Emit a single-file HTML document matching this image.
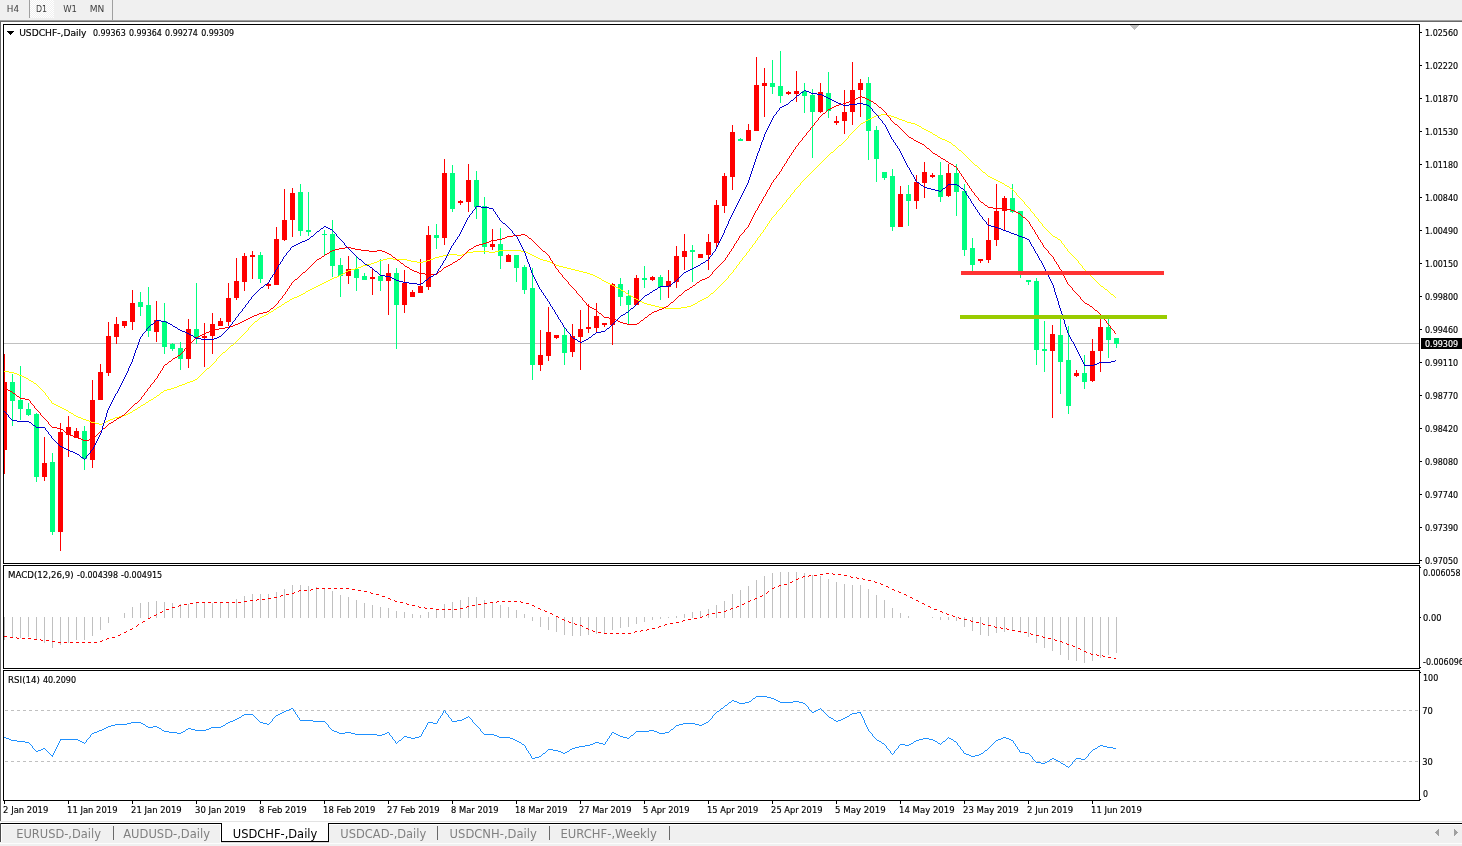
<!DOCTYPE html>
<html lang="en"><head><meta charset="utf-8"><title>USDCHF-,Daily</title>
<style>
html,body{margin:0;padding:0;background:#fff;}
body{width:1462px;height:846px;overflow:hidden;}
svg{display:block;}
svg rect, svg path, svg polyline{shape-rendering:crispEdges;}
text{font-family:"DejaVu Sans Condensed","Liberation Sans","DejaVu Sans",sans-serif;white-space:pre;stroke-width:0.15px;}
text.t{stroke-width:0;}
</style></head>
<body>
<svg width="1462" height="846" viewBox="0 0 1462 846">
<defs>
<pattern id="hatch" width="2" height="2" patternUnits="userSpaceOnUse"><rect width="2" height="2" fill="#f0f0f0"/><rect width="1" height="1" fill="#fff"/><rect x="1" y="1" width="1" height="1" fill="#fff"/></pattern>
<clipPath id="cm"><rect x="4" y="25" width="1415" height="538"/></clipPath>
<clipPath id="c2"><rect x="4" y="566" width="1415" height="102"/></clipPath>
<clipPath id="c3"><rect x="4" y="671" width="1415" height="129"/></clipPath>
</defs>
<rect x="0" y="0" width="1462" height="20" fill="#f0f0f0"/>
<rect x="0" y="20" width="1462" height="1" fill="#a0a0a0"/>
<rect x="0" y="21" width="1462" height="1" fill="#696969"/>
<rect x="0" y="22" width="1" height="800" fill="#696969"/>
<rect x="29" y="0" width="1" height="18" fill="#a0a0a0"/>
<rect x="112" y="0" width="1" height="20" fill="#a0a0a0"/>
<rect x="30" y="0" width="24" height="18" fill="url(#hatch)"/>
<text x="6.8" y="12" font-size="9" fill="#404040" stroke="#404040" textLength="12.2" lengthAdjust="spacingAndGlyphs" class="t">H4</text>
<text x="35.9" y="12" font-size="9" fill="#404040" stroke="#404040" textLength="11.1" lengthAdjust="spacingAndGlyphs" class="t">D1</text>
<text x="63.2" y="12" font-size="9" fill="#404040" stroke="#404040" textLength="13.8" lengthAdjust="spacingAndGlyphs" class="t">W1</text>
<text x="89.7" y="12" font-size="9" fill="#404040" stroke="#404040" textLength="14.6" lengthAdjust="spacingAndGlyphs" class="t">MN</text>
<rect x="3" y="24" width="1417" height="1" fill="#000"/>
<rect x="3" y="563" width="1417" height="1" fill="#000"/>
<rect x="3" y="24" width="1" height="540" fill="#000"/>
<rect x="1419" y="24" width="1" height="540" fill="#000"/>
<rect x="3" y="565" width="1417" height="1" fill="#000"/>
<rect x="3" y="668" width="1417" height="1" fill="#000"/>
<rect x="3" y="565" width="1" height="104" fill="#000"/>
<rect x="1419" y="565" width="1" height="104" fill="#000"/>
<rect x="3" y="670" width="1417" height="1" fill="#000"/>
<rect x="3" y="800" width="1417" height="1" fill="#000"/>
<rect x="3" y="670" width="1" height="131" fill="#000"/>
<rect x="1419" y="670" width="1" height="131" fill="#000"/>
<g clip-path="url(#cm)">
<rect x="4" y="343" width="1415" height="1" fill="#c0c0c0"/>
<path d="M1130 25h9l-4.5 5z" fill="#c0c0c0"/>
<rect x="4" y="354" width="1" height="120" fill="#ff0000"/>
<rect x="2" y="382" width="5" height="68" fill="#ff0000"/>
<rect x="12" y="374" width="1" height="52" fill="#00ff80"/>
<rect x="10" y="382" width="5" height="19" fill="#00ff80"/>
<rect x="20" y="366" width="1" height="54" fill="#00ff80"/>
<rect x="18" y="400" width="5" height="9" fill="#00ff80"/>
<rect x="28" y="403" width="1" height="13" fill="#00ff80"/>
<rect x="26" y="409" width="5" height="6" fill="#00ff80"/>
<rect x="36" y="413" width="1" height="69" fill="#00ff80"/>
<rect x="34" y="414" width="5" height="63" fill="#00ff80"/>
<rect x="44" y="437" width="1" height="44" fill="#ff0000"/>
<rect x="42" y="463" width="5" height="14" fill="#ff0000"/>
<rect x="52" y="453" width="1" height="82" fill="#00ff80"/>
<rect x="50" y="462" width="5" height="70" fill="#00ff80"/>
<rect x="60" y="423" width="1" height="128" fill="#ff0000"/>
<rect x="58" y="432" width="5" height="100" fill="#ff0000"/>
<rect x="68" y="416" width="1" height="41" fill="#ff0000"/>
<rect x="66" y="427" width="5" height="8" fill="#ff0000"/>
<rect x="76" y="428" width="1" height="10" fill="#ff0000"/>
<rect x="74" y="431" width="5" height="7" fill="#ff0000"/>
<rect x="84" y="426" width="1" height="44" fill="#00ff80"/>
<rect x="82" y="431" width="5" height="28" fill="#00ff80"/>
<rect x="92" y="380" width="1" height="88" fill="#ff0000"/>
<rect x="90" y="400" width="5" height="60" fill="#ff0000"/>
<rect x="100" y="364" width="1" height="36" fill="#ff0000"/>
<rect x="98" y="372" width="5" height="28" fill="#ff0000"/>
<rect x="108" y="322" width="1" height="54" fill="#ff0000"/>
<rect x="106" y="336" width="5" height="37" fill="#ff0000"/>
<rect x="116" y="317" width="1" height="27" fill="#ff0000"/>
<rect x="114" y="324" width="5" height="13" fill="#ff0000"/>
<rect x="124" y="321" width="1" height="7" fill="#ff0000"/>
<rect x="122" y="321" width="5" height="5" fill="#ff0000"/>
<rect x="132" y="290" width="1" height="40" fill="#ff0000"/>
<rect x="130" y="303" width="5" height="19" fill="#ff0000"/>
<rect x="140" y="292" width="1" height="24" fill="#00ff80"/>
<rect x="138" y="302" width="5" height="5" fill="#00ff80"/>
<rect x="148" y="287" width="1" height="50" fill="#00ff80"/>
<rect x="146" y="305" width="5" height="26" fill="#00ff80"/>
<rect x="156" y="301" width="1" height="41" fill="#ff0000"/>
<rect x="154" y="320" width="5" height="12" fill="#ff0000"/>
<rect x="164" y="303" width="1" height="51" fill="#00ff80"/>
<rect x="162" y="321" width="5" height="26" fill="#00ff80"/>
<rect x="172" y="343" width="1" height="8" fill="#00ff80"/>
<rect x="170" y="344" width="5" height="5" fill="#00ff80"/>
<rect x="180" y="342" width="1" height="28" fill="#00ff80"/>
<rect x="178" y="348" width="5" height="11" fill="#00ff80"/>
<rect x="188" y="319" width="1" height="49" fill="#ff0000"/>
<rect x="186" y="329" width="5" height="30" fill="#ff0000"/>
<rect x="196" y="283" width="1" height="61" fill="#00ff80"/>
<rect x="194" y="329" width="5" height="9" fill="#00ff80"/>
<rect x="204" y="323" width="1" height="44" fill="#ff0000"/>
<rect x="202" y="336" width="5" height="2" fill="#ff0000"/>
<rect x="212" y="313" width="1" height="41" fill="#ff0000"/>
<rect x="210" y="324" width="5" height="12" fill="#ff0000"/>
<rect x="220" y="318" width="1" height="8" fill="#ff0000"/>
<rect x="218" y="321" width="5" height="5" fill="#ff0000"/>
<rect x="228" y="283" width="1" height="43" fill="#ff0000"/>
<rect x="226" y="298" width="5" height="24" fill="#ff0000"/>
<rect x="236" y="258" width="1" height="42" fill="#ff0000"/>
<rect x="234" y="281" width="5" height="17" fill="#ff0000"/>
<rect x="244" y="253" width="1" height="38" fill="#ff0000"/>
<rect x="242" y="256" width="5" height="26" fill="#ff0000"/>
<rect x="252" y="251" width="1" height="28" fill="#ff0000"/>
<rect x="250" y="255" width="5" height="2" fill="#ff0000"/>
<rect x="260" y="252" width="1" height="31" fill="#00ff80"/>
<rect x="258" y="255" width="5" height="24" fill="#00ff80"/>
<rect x="268" y="282" width="1" height="7" fill="#ff0000"/>
<rect x="266" y="284" width="5" height="2" fill="#ff0000"/>
<rect x="276" y="227" width="1" height="58" fill="#ff0000"/>
<rect x="274" y="239" width="5" height="46" fill="#ff0000"/>
<rect x="284" y="189" width="1" height="52" fill="#ff0000"/>
<rect x="282" y="220" width="5" height="20" fill="#ff0000"/>
<rect x="292" y="188" width="1" height="49" fill="#ff0000"/>
<rect x="290" y="193" width="5" height="27" fill="#ff0000"/>
<rect x="300" y="184" width="1" height="52" fill="#00ff80"/>
<rect x="298" y="192" width="5" height="39" fill="#00ff80"/>
<rect x="308" y="192" width="1" height="44" fill="#00ff80"/>
<rect x="306" y="230" width="5" height="2" fill="#00ff80"/>
<rect x="324" y="230" width="1" height="26" fill="#00ff80"/>
<rect x="322" y="234" width="5" height="1" fill="#00ff80"/>
<rect x="332" y="220" width="1" height="57" fill="#00ff80"/>
<rect x="330" y="234" width="5" height="32" fill="#00ff80"/>
<rect x="340" y="258" width="1" height="39" fill="#00ff80"/>
<rect x="338" y="265" width="5" height="11" fill="#00ff80"/>
<rect x="348" y="256" width="1" height="28" fill="#ff0000"/>
<rect x="346" y="269" width="5" height="7" fill="#ff0000"/>
<rect x="356" y="256" width="1" height="35" fill="#00ff80"/>
<rect x="354" y="269" width="5" height="9" fill="#00ff80"/>
<rect x="364" y="273" width="1" height="7" fill="#00ff80"/>
<rect x="362" y="276" width="5" height="4" fill="#00ff80"/>
<rect x="372" y="268" width="1" height="27" fill="#ff0000"/>
<rect x="370" y="277" width="5" height="2" fill="#ff0000"/>
<rect x="380" y="259" width="1" height="32" fill="#00ff80"/>
<rect x="378" y="276" width="5" height="5" fill="#00ff80"/>
<rect x="388" y="264" width="1" height="51" fill="#ff0000"/>
<rect x="386" y="273" width="5" height="8" fill="#ff0000"/>
<rect x="396" y="268" width="1" height="81" fill="#00ff80"/>
<rect x="394" y="273" width="5" height="32" fill="#00ff80"/>
<rect x="404" y="270" width="1" height="43" fill="#ff0000"/>
<rect x="402" y="283" width="5" height="22" fill="#ff0000"/>
<rect x="412" y="290" width="1" height="7" fill="#ff0000"/>
<rect x="410" y="292" width="5" height="5" fill="#ff0000"/>
<rect x="420" y="259" width="1" height="34" fill="#ff0000"/>
<rect x="418" y="286" width="5" height="7" fill="#ff0000"/>
<rect x="428" y="226" width="1" height="64" fill="#ff0000"/>
<rect x="426" y="235" width="5" height="52" fill="#ff0000"/>
<rect x="436" y="224" width="1" height="25" fill="#00ff80"/>
<rect x="434" y="235" width="5" height="3" fill="#00ff80"/>
<rect x="444" y="159" width="1" height="86" fill="#ff0000"/>
<rect x="442" y="173" width="5" height="65" fill="#ff0000"/>
<rect x="452" y="165" width="1" height="47" fill="#00ff80"/>
<rect x="450" y="173" width="5" height="36" fill="#00ff80"/>
<rect x="460" y="200" width="1" height="5" fill="#ff0000"/>
<rect x="458" y="201" width="5" height="2" fill="#ff0000"/>
<rect x="468" y="164" width="1" height="48" fill="#ff0000"/>
<rect x="466" y="180" width="5" height="22" fill="#ff0000"/>
<rect x="476" y="171" width="1" height="48" fill="#00ff80"/>
<rect x="474" y="180" width="5" height="27" fill="#00ff80"/>
<rect x="484" y="197" width="1" height="57" fill="#00ff80"/>
<rect x="482" y="206" width="5" height="41" fill="#00ff80"/>
<rect x="492" y="229" width="1" height="21" fill="#ff0000"/>
<rect x="490" y="244" width="5" height="3" fill="#ff0000"/>
<rect x="500" y="228" width="1" height="41" fill="#00ff80"/>
<rect x="498" y="244" width="5" height="12" fill="#00ff80"/>
<rect x="508" y="254" width="1" height="8" fill="#ff0000"/>
<rect x="506" y="255" width="5" height="7" fill="#ff0000"/>
<rect x="516" y="255" width="1" height="27" fill="#00ff80"/>
<rect x="514" y="255" width="5" height="13" fill="#00ff80"/>
<rect x="524" y="265" width="1" height="29" fill="#00ff80"/>
<rect x="522" y="267" width="5" height="23" fill="#00ff80"/>
<rect x="532" y="268" width="1" height="112" fill="#00ff80"/>
<rect x="530" y="288" width="5" height="77" fill="#00ff80"/>
<rect x="540" y="330" width="1" height="41" fill="#ff0000"/>
<rect x="538" y="355" width="5" height="10" fill="#ff0000"/>
<rect x="548" y="307" width="1" height="54" fill="#ff0000"/>
<rect x="546" y="332" width="5" height="24" fill="#ff0000"/>
<rect x="556" y="335" width="1" height="4" fill="#ff0000"/>
<rect x="554" y="335" width="5" height="3" fill="#ff0000"/>
<rect x="564" y="328" width="1" height="37" fill="#00ff80"/>
<rect x="562" y="335" width="5" height="18" fill="#00ff80"/>
<rect x="572" y="324" width="1" height="33" fill="#ff0000"/>
<rect x="570" y="336" width="5" height="16" fill="#ff0000"/>
<rect x="580" y="310" width="1" height="60" fill="#ff0000"/>
<rect x="578" y="329" width="5" height="8" fill="#ff0000"/>
<rect x="588" y="304" width="1" height="29" fill="#ff0000"/>
<rect x="586" y="327" width="5" height="2" fill="#ff0000"/>
<rect x="596" y="303" width="1" height="30" fill="#ff0000"/>
<rect x="594" y="316" width="5" height="12" fill="#ff0000"/>
<rect x="604" y="323" width="1" height="4" fill="#ff0000"/>
<rect x="602" y="323" width="5" height="2" fill="#ff0000"/>
<rect x="612" y="283" width="1" height="62" fill="#ff0000"/>
<rect x="610" y="284" width="5" height="41" fill="#ff0000"/>
<rect x="620" y="278" width="1" height="28" fill="#00ff80"/>
<rect x="618" y="284" width="5" height="13" fill="#00ff80"/>
<rect x="628" y="290" width="1" height="34" fill="#00ff80"/>
<rect x="626" y="296" width="5" height="9" fill="#00ff80"/>
<rect x="636" y="275" width="1" height="30" fill="#ff0000"/>
<rect x="634" y="278" width="5" height="27" fill="#ff0000"/>
<rect x="644" y="266" width="1" height="22" fill="#00ff80"/>
<rect x="642" y="278" width="5" height="2" fill="#00ff80"/>
<rect x="652" y="276" width="1" height="5" fill="#ff0000"/>
<rect x="650" y="277" width="5" height="3" fill="#ff0000"/>
<rect x="660" y="275" width="1" height="25" fill="#00ff80"/>
<rect x="658" y="277" width="5" height="10" fill="#00ff80"/>
<rect x="668" y="270" width="1" height="28" fill="#ff0000"/>
<rect x="666" y="281" width="5" height="6" fill="#ff0000"/>
<rect x="676" y="246" width="1" height="42" fill="#ff0000"/>
<rect x="674" y="256" width="5" height="26" fill="#ff0000"/>
<rect x="684" y="234" width="1" height="36" fill="#ff0000"/>
<rect x="682" y="251" width="5" height="6" fill="#ff0000"/>
<rect x="692" y="245" width="1" height="37" fill="#00ff80"/>
<rect x="690" y="250" width="5" height="2" fill="#00ff80"/>
<rect x="700" y="254" width="1" height="4" fill="#ff0000"/>
<rect x="698" y="254" width="5" height="4" fill="#ff0000"/>
<rect x="708" y="234" width="1" height="36" fill="#ff0000"/>
<rect x="706" y="242" width="5" height="13" fill="#ff0000"/>
<rect x="716" y="200" width="1" height="48" fill="#ff0000"/>
<rect x="714" y="205" width="5" height="38" fill="#ff0000"/>
<rect x="724" y="173" width="1" height="40" fill="#ff0000"/>
<rect x="722" y="176" width="5" height="30" fill="#ff0000"/>
<rect x="732" y="125" width="1" height="65" fill="#ff0000"/>
<rect x="730" y="132" width="5" height="45" fill="#ff0000"/>
<rect x="740" y="138" width="1" height="3" fill="#00ff80"/>
<rect x="738" y="139" width="5" height="2" fill="#00ff80"/>
<rect x="748" y="124" width="1" height="17" fill="#ff0000"/>
<rect x="746" y="130" width="5" height="11" fill="#ff0000"/>
<rect x="756" y="57" width="1" height="74" fill="#ff0000"/>
<rect x="754" y="85" width="5" height="46" fill="#ff0000"/>
<rect x="764" y="68" width="1" height="49" fill="#ff0000"/>
<rect x="762" y="83" width="5" height="3" fill="#ff0000"/>
<rect x="772" y="60" width="1" height="34" fill="#00ff80"/>
<rect x="770" y="83" width="5" height="4" fill="#00ff80"/>
<rect x="780" y="51" width="1" height="52" fill="#00ff80"/>
<rect x="778" y="86" width="5" height="10" fill="#00ff80"/>
<rect x="788" y="91" width="1" height="4" fill="#ff0000"/>
<rect x="786" y="92" width="5" height="2" fill="#ff0000"/>
<rect x="796" y="71" width="1" height="31" fill="#ff0000"/>
<rect x="794" y="91" width="5" height="3" fill="#ff0000"/>
<rect x="804" y="83" width="1" height="30" fill="#00ff80"/>
<rect x="802" y="91" width="5" height="5" fill="#00ff80"/>
<rect x="812" y="89" width="1" height="69" fill="#00ff80"/>
<rect x="810" y="95" width="5" height="17" fill="#00ff80"/>
<rect x="820" y="83" width="1" height="30" fill="#ff0000"/>
<rect x="818" y="92" width="5" height="20" fill="#ff0000"/>
<rect x="828" y="72" width="1" height="46" fill="#00ff80"/>
<rect x="826" y="93" width="5" height="18" fill="#00ff80"/>
<rect x="836" y="116" width="1" height="9" fill="#ff0000"/>
<rect x="834" y="121" width="5" height="2" fill="#ff0000"/>
<rect x="844" y="90" width="1" height="44" fill="#ff0000"/>
<rect x="842" y="112" width="5" height="9" fill="#ff0000"/>
<rect x="852" y="62" width="1" height="63" fill="#ff0000"/>
<rect x="850" y="90" width="5" height="22" fill="#ff0000"/>
<rect x="860" y="79" width="1" height="38" fill="#ff0000"/>
<rect x="858" y="83" width="5" height="7" fill="#ff0000"/>
<rect x="868" y="77" width="1" height="83" fill="#00ff80"/>
<rect x="866" y="83" width="5" height="48" fill="#00ff80"/>
<rect x="876" y="126" width="1" height="56" fill="#00ff80"/>
<rect x="874" y="130" width="5" height="29" fill="#00ff80"/>
<rect x="884" y="172" width="1" height="8" fill="#00ff80"/>
<rect x="882" y="172" width="5" height="6" fill="#00ff80"/>
<rect x="892" y="169" width="1" height="62" fill="#00ff80"/>
<rect x="890" y="176" width="5" height="51" fill="#00ff80"/>
<rect x="900" y="186" width="1" height="41" fill="#ff0000"/>
<rect x="898" y="194" width="5" height="33" fill="#ff0000"/>
<rect x="908" y="185" width="1" height="41" fill="#00ff80"/>
<rect x="906" y="194" width="5" height="7" fill="#00ff80"/>
<rect x="916" y="175" width="1" height="34" fill="#ff0000"/>
<rect x="914" y="182" width="5" height="19" fill="#ff0000"/>
<rect x="924" y="162" width="1" height="36" fill="#ff0000"/>
<rect x="922" y="172" width="5" height="11" fill="#ff0000"/>
<rect x="932" y="173" width="1" height="5" fill="#ff0000"/>
<rect x="930" y="175" width="5" height="2" fill="#ff0000"/>
<rect x="940" y="162" width="1" height="40" fill="#00ff80"/>
<rect x="938" y="175" width="5" height="22" fill="#00ff80"/>
<rect x="948" y="164" width="1" height="33" fill="#ff0000"/>
<rect x="946" y="173" width="5" height="23" fill="#ff0000"/>
<rect x="956" y="164" width="1" height="52" fill="#00ff80"/>
<rect x="954" y="173" width="5" height="19" fill="#00ff80"/>
<rect x="964" y="184" width="1" height="72" fill="#00ff80"/>
<rect x="962" y="191" width="5" height="59" fill="#00ff80"/>
<rect x="972" y="238" width="1" height="33" fill="#00ff80"/>
<rect x="970" y="248" width="5" height="17" fill="#00ff80"/>
<rect x="980" y="259" width="1" height="4" fill="#ff0000"/>
<rect x="978" y="259" width="5" height="2" fill="#ff0000"/>
<rect x="988" y="218" width="1" height="45" fill="#ff0000"/>
<rect x="986" y="240" width="5" height="20" fill="#ff0000"/>
<rect x="996" y="184" width="1" height="62" fill="#ff0000"/>
<rect x="994" y="211" width="5" height="29" fill="#ff0000"/>
<rect x="1004" y="196" width="1" height="34" fill="#ff0000"/>
<rect x="1002" y="198" width="5" height="13" fill="#ff0000"/>
<rect x="1012" y="184" width="1" height="29" fill="#00ff80"/>
<rect x="1010" y="198" width="5" height="14" fill="#00ff80"/>
<rect x="1020" y="211" width="1" height="67" fill="#00ff80"/>
<rect x="1018" y="211" width="5" height="62" fill="#00ff80"/>
<rect x="1028" y="280" width="1" height="5" fill="#00ff80"/>
<rect x="1026" y="280" width="5" height="2" fill="#00ff80"/>
<rect x="1036" y="278" width="1" height="87" fill="#00ff80"/>
<rect x="1034" y="281" width="5" height="69" fill="#00ff80"/>
<rect x="1044" y="321" width="1" height="51" fill="#00ff80"/>
<rect x="1042" y="349" width="5" height="2" fill="#00ff80"/>
<rect x="1052" y="325" width="1" height="93" fill="#ff0000"/>
<rect x="1050" y="334" width="5" height="17" fill="#ff0000"/>
<rect x="1060" y="319" width="1" height="75" fill="#00ff80"/>
<rect x="1058" y="335" width="5" height="27" fill="#00ff80"/>
<rect x="1068" y="326" width="1" height="88" fill="#00ff80"/>
<rect x="1066" y="360" width="5" height="46" fill="#00ff80"/>
<rect x="1076" y="370" width="1" height="7" fill="#ff0000"/>
<rect x="1074" y="373" width="5" height="3" fill="#ff0000"/>
<rect x="1084" y="355" width="1" height="34" fill="#00ff80"/>
<rect x="1082" y="373" width="5" height="9" fill="#00ff80"/>
<rect x="1092" y="339" width="1" height="43" fill="#ff0000"/>
<rect x="1090" y="351" width="5" height="30" fill="#ff0000"/>
<rect x="1100" y="319" width="1" height="53" fill="#ff0000"/>
<rect x="1098" y="327" width="5" height="24" fill="#ff0000"/>
<rect x="1108" y="319" width="1" height="39" fill="#00ff80"/>
<rect x="1106" y="327" width="5" height="13" fill="#00ff80"/>
<rect x="1116" y="338" width="1" height="10" fill="#00ff80"/>
<rect x="1114" y="338" width="5" height="6" fill="#00ff80"/>
<path d="M4 371h5v1h-5zM9 372h5v1h-5zM14 373h3v1h-3zM17 374h2v1h-2zM19 375h3v1h-3zM22 376h2v1h-2zM24 377h2v1h-2zM26 378h2v1h-2zM28 379h1v1h-1zM29 380h2v1h-2zM31 381h2v1h-2zM33 382h1v1h-1zM34 383h2v1h-2zM36 384h1v1h-1zM37 385h1v1h-1zM38 386h1v1h-1zM39 387h1v1h-1zM40 388h1v1h-1zM41 389h1v1h-1zM42 390h1v1h-1zM43 391h1v1h-1zM44 392h1v1h-1zM45 393h1v2h-1zM46 395h1v1h-1zM47 396h1v1h-1zM48 397h1v2h-1zM49 399h1v1h-1zM50 400h1v1h-1zM51 401h1v2h-1zM52 403h2v1h-2zM54 404h2v1h-2zM56 405h2v1h-2zM58 406h2v1h-2zM60 407h2v1h-2zM62 408h2v1h-2zM64 409h2v1h-2zM66 410h2v1h-2zM68 411h1v1h-1zM69 412h2v1h-2zM71 413h2v1h-2zM73 414h1v1h-1zM74 415h2v1h-2zM76 416h2v1h-2zM78 417h3v1h-3zM81 418h2v1h-2zM83 419h3v1h-3zM86 420h3v1h-3zM89 421h2v1h-2zM91 422h4v1h-4zM95 423h4v1h-4zM99 424h3v1h-3zM102 423h2v1h-2zM104 422h2v1h-2zM106 421h2v1h-2zM108 420h2v1h-2zM110 419h3v1h-3zM113 418h2v1h-2zM115 417h4v1h-4zM119 416h4v1h-4zM123 415h3v1h-3zM126 414h2v1h-2zM128 413h2v1h-2zM130 412h2v1h-2zM132 411h1v1h-1zM133 410h2v1h-2zM135 409h2v1h-2zM137 408h1v1h-1zM138 407h2v1h-2zM140 406h1v1h-1zM141 405h2v1h-2zM143 404h2v1h-2zM145 403h1v1h-1zM146 402h2v1h-2zM148 401h1v1h-1zM149 400h2v1h-2zM151 399h2v1h-2zM153 398h1v1h-1zM154 397h2v1h-2zM156 396h1v1h-1zM157 395h2v1h-2zM159 394h1v1h-1zM160 393h1v1h-1zM161 392h2v1h-2zM163 391h1v1h-1zM164 390h3v1h-3zM167 389h4v1h-4zM171 388h3v1h-3zM174 387h3v1h-3zM177 386h2v1h-2zM179 385h3v1h-3zM182 384h3v1h-3zM185 383h2v1h-2zM187 382h3v1h-3zM190 381h3v1h-3zM193 380h2v1h-2zM195 379h2v1h-2zM197 378h1v1h-1zM198 377h1v1h-1zM199 376h1v1h-1zM200 375h1v1h-1zM201 374h1v1h-1zM202 373h1v1h-1zM203 372h1v1h-1zM204 371h1v1h-1zM205 370h1v1h-1zM206 369h1v1h-1zM207 368h2v1h-2zM209 367h1v1h-1zM210 366h1v1h-1zM211 365h1v1h-1zM212 364h1v1h-1zM213 363h1v1h-1zM214 362h1v1h-1zM215 361h1v1h-1zM216 360h1v1h-1zM216 359h1v1h-1zM217 358h1v1h-1zM218 357h1v1h-1zM219 356h1v1h-1zM220 355h1v1h-1zM221 354h1v1h-1zM222 353h1v1h-1zM223 352h2v1h-2zM225 351h1v1h-1zM226 350h1v1h-1zM227 349h1v1h-1zM228 348h1v1h-1zM229 347h1v1h-1zM230 346h1v1h-1zM231 345h2v1h-2zM233 344h1v1h-1zM234 343h1v1h-1zM235 342h1v1h-1zM236 341h1v1h-1zM237 340h1v1h-1zM238 339h1v1h-1zM239 338h1v1h-1zM240 337h1v1h-1zM241 336h1v1h-1zM242 335h1v1h-1zM243 334h1v1h-1zM244 333h1v1h-1zM245 332h1v1h-1zM246 331h1v1h-1zM247 330h1v1h-1zM248 329h1v1h-1zM248 328h1v1h-1zM249 327h1v1h-1zM250 326h1v1h-1zM251 325h1v1h-1zM252 324h1v1h-1zM253 323h1v1h-1zM254 322h1v1h-1zM255 321h2v1h-2zM257 320h1v1h-1zM258 319h1v1h-1zM259 318h1v1h-1zM260 317h2v1h-2zM262 316h2v1h-2zM264 315h2v1h-2zM266 314h2v1h-2zM268 313h1v1h-1zM269 312h2v1h-2zM271 311h2v1h-2zM273 310h1v1h-1zM274 309h2v1h-2zM276 308h1v1h-1zM277 307h2v1h-2zM279 306h2v1h-2zM281 305h1v1h-1zM282 304h2v1h-2zM284 303h1v1h-1zM285 302h2v1h-2zM287 301h2v1h-2zM289 300h1v1h-1zM290 299h2v1h-2zM292 298h2v1h-2zM294 297h3v1h-3zM297 296h2v1h-2zM299 295h2v1h-2zM301 294h2v1h-2zM303 293h2v1h-2zM305 292h1v1h-1zM306 291h2v1h-2zM308 290h2v1h-2zM310 289h2v1h-2zM312 288h2v1h-2zM314 287h2v1h-2zM316 286h2v1h-2zM318 285h2v1h-2zM320 284h2v1h-2zM322 283h2v1h-2zM324 282h2v1h-2zM326 281h2v1h-2zM328 280h2v1h-2zM330 279h2v1h-2zM332 278h2v1h-2zM334 277h3v1h-3zM337 276h2v1h-2zM339 275h2v1h-2zM341 274h2v1h-2zM343 273h2v1h-2zM345 272h1v1h-1zM346 271h2v1h-2zM348 270h3v1h-3zM351 269h4v1h-4zM355 268h3v1h-3zM358 267h3v1h-3zM361 266h2v1h-2zM363 265h4v1h-4zM367 264h4v1h-4zM371 263h3v1h-3zM374 262h3v1h-3zM377 261h2v1h-2zM379 260h4v1h-4zM383 259h4v1h-4zM387 258h6v1h-6zM393 259h14v1h-14zM407 260h4v1h-4zM411 261h6v1h-6zM417 262h6v1h-6zM423 261h4v1h-4zM427 260h3v1h-3zM430 259h3v1h-3zM433 258h2v1h-2zM435 257h4v1h-4zM439 256h4v1h-4zM443 255h6v1h-6zM449 254h8v1h-8zM457 255h5v1h-5zM462 254h3v1h-3zM465 253h2v1h-2zM467 252h6v1h-6zM473 251h16v1h-16zM489 252h6v1h-6zM495 251h4v1h-4zM499 250h22v1h-22zM521 251h5v1h-5zM526 252h2v1h-2zM528 253h2v1h-2zM530 254h2v1h-2zM532 255h2v1h-2zM534 256h2v1h-2zM536 257h2v1h-2zM538 258h2v1h-2zM540 259h3v1h-3zM543 260h4v1h-4zM547 261h3v1h-3zM550 262h2v1h-2zM552 263h2v1h-2zM554 264h2v1h-2zM556 265h3v1h-3zM559 266h4v1h-4zM563 267h4v1h-4zM567 268h4v1h-4zM571 269h4v1h-4zM575 270h4v1h-4zM579 271h4v1h-4zM583 272h4v1h-4zM587 273h3v1h-3zM590 274h3v1h-3zM593 275h2v1h-2zM595 276h2v1h-2zM597 277h2v1h-2zM599 278h2v1h-2zM601 279h1v1h-1zM602 280h2v1h-2zM604 281h2v1h-2zM606 282h2v1h-2zM608 283h2v1h-2zM610 284h2v1h-2zM612 285h2v1h-2zM614 286h2v1h-2zM616 287h2v1h-2zM618 288h2v1h-2zM620 289h1v1h-1zM621 290h2v1h-2zM623 291h2v1h-2zM625 292h1v1h-1zM626 293h2v1h-2zM628 294h1v1h-1zM629 295h2v1h-2zM631 296h2v1h-2zM633 297h1v1h-1zM634 298h2v1h-2zM636 299h2v1h-2zM638 300h2v1h-2zM640 301h2v1h-2zM642 302h2v1h-2zM644 303h3v1h-3zM647 304h4v1h-4zM651 305h4v1h-4zM655 306h4v1h-4zM659 307h6v1h-6zM665 308h16v1h-16zM681 307h6v1h-6zM687 306h4v1h-4zM691 305h2v1h-2zM693 304h2v1h-2zM695 303h2v1h-2zM697 302h1v1h-1zM698 301h2v1h-2zM700 300h2v1h-2zM702 299h2v1h-2zM704 298h2v1h-2zM706 297h2v1h-2zM708 296h1v1h-1zM709 295h1v1h-1zM710 294h1v1h-1zM711 293h2v1h-2zM713 292h1v1h-1zM714 291h1v1h-1zM715 290h1v1h-1zM716 289h1v1h-1zM717 288h1v1h-1zM718 287h1v1h-1zM719 286h1v1h-1zM720 285h1v1h-1zM721 284h1v1h-1zM722 283h1v1h-1zM723 282h1v1h-1zM724 281h1v1h-1zM725 280h1v1h-1zM726 279h1v1h-1zM727 278h1v1h-1zM728 277h1v1h-1zM728 276h1v1h-1zM729 275h1v1h-1zM730 274h1v1h-1zM731 273h1v1h-1zM732 272h1v1h-1zM733 271h1v1h-1zM733 270h1v1h-1zM734 269h1v1h-1zM735 268h1v1h-1zM736 267h1v1h-1zM736 266h1v1h-1zM737 265h1v1h-1zM738 264h1v1h-1zM739 263h1v1h-1zM739 262h1v1h-1zM740 261h1v1h-1zM741 260h1v1h-1zM742 259h1v1h-1zM742 258h1v1h-1zM743 257h1v1h-1zM744 256h1v1h-1zM745 255h1v1h-1zM746 254h1v1h-1zM746 253h1v1h-1zM747 252h1v1h-1zM748 251h1v1h-1zM749 250h1v1h-1zM749 249h1v1h-1zM750 248h1v1h-1zM751 247h1v1h-1zM752 246h1v1h-1zM752 245h1v1h-1zM753 244h1v1h-1zM754 243h1v1h-1zM755 242h1v1h-1zM755 241h1v1h-1zM756 240h1v1h-1zM757 239h1v1h-1zM757 238h1v1h-1zM758 237h1v1h-1zM759 236h1v1h-1zM760 235h1v1h-1zM760 234h1v1h-1zM761 233h1v1h-1zM762 232h1v1h-1zM763 231h1v1h-1zM763 230h1v1h-1zM764 229h1v1h-1zM765 228h1v1h-1zM765 227h1v1h-1zM766 226h1v1h-1zM767 225h1v1h-1zM767 224h1v1h-1zM768 223h1v1h-1zM769 222h1v1h-1zM769 221h1v1h-1zM770 220h1v1h-1zM771 219h1v1h-1zM771 218h1v1h-1zM772 217h1v1h-1zM773 216h1v1h-1zM774 215h1v1h-1zM775 214h1v1h-1zM776 213h1v1h-1zM776 212h1v1h-1zM777 211h1v1h-1zM778 210h1v1h-1zM779 209h1v1h-1zM780 208h1v1h-1zM781 207h1v1h-1zM782 206h1v1h-1zM782 205h1v1h-1zM783 204h1v1h-1zM784 203h1v1h-1zM785 202h1v1h-1zM786 201h1v1h-1zM786 200h1v1h-1zM787 199h1v1h-1zM788 198h1v1h-1zM789 197h1v1h-1zM790 196h1v1h-1zM790 195h1v1h-1zM791 194h1v1h-1zM792 193h1v1h-1zM793 192h1v1h-1zM794 191h1v1h-1zM794 190h1v1h-1zM795 189h1v1h-1zM796 188h1v1h-1zM797 187h1v1h-1zM798 186h1v1h-1zM799 185h1v1h-1zM800 184h1v1h-1zM800 183h1v1h-1zM801 182h1v1h-1zM802 181h1v1h-1zM803 180h1v1h-1zM804 179h1v1h-1zM805 178h1v1h-1zM806 177h1v1h-1zM807 176h1v1h-1zM808 175h1v1h-1zM809 174h1v1h-1zM810 173h1v1h-1zM811 172h1v1h-1zM812 171h1v1h-1zM813 170h1v1h-1zM814 169h1v1h-1zM815 168h1v1h-1zM816 167h1v1h-1zM817 166h1v1h-1zM818 165h1v1h-1zM819 164h1v1h-1zM820 163h1v1h-1zM821 162h1v1h-1zM822 161h1v1h-1zM823 160h1v1h-1zM824 159h1v1h-1zM825 158h1v1h-1zM826 157h1v1h-1zM827 156h1v1h-1zM828 155h1v1h-1zM829 154h1v1h-1zM830 153h1v1h-1zM831 152h2v1h-2zM833 151h1v1h-1zM834 150h1v1h-1zM835 149h1v1h-1zM836 148h1v1h-1zM837 147h1v1h-1zM838 146h1v1h-1zM839 145h2v1h-2zM841 144h1v1h-1zM842 143h1v1h-1zM843 142h1v1h-1zM844 141h1v1h-1zM845 140h1v1h-1zM846 139h1v1h-1zM847 138h1v1h-1zM848 137h1v1h-1zM848 136h1v1h-1zM849 135h1v1h-1zM850 134h1v1h-1zM851 133h1v1h-1zM852 132h1v1h-1zM853 131h1v1h-1zM854 130h1v1h-1zM855 129h1v1h-1zM856 128h1v1h-1zM857 127h1v1h-1zM858 126h1v1h-1zM859 125h1v1h-1zM860 124h1v1h-1zM861 123h2v1h-2zM863 122h2v1h-2zM865 121h1v1h-1zM866 120h2v1h-2zM868 119h2v1h-2zM870 118h2v1h-2zM872 117h2v1h-2zM874 116h2v1h-2zM876 115h5v1h-5zM881 114h6v1h-6zM887 115h4v1h-4zM891 116h3v1h-3zM894 117h3v1h-3zM897 118h2v1h-2zM899 119h3v1h-3zM902 120h3v1h-3zM905 121h2v1h-2zM907 122h4v1h-4zM911 123h4v1h-4zM915 124h2v1h-2zM917 125h2v1h-2zM919 126h2v1h-2zM921 127h1v1h-1zM922 128h2v1h-2zM924 129h2v1h-2zM926 130h2v1h-2zM928 131h2v1h-2zM930 132h2v1h-2zM932 133h1v1h-1zM933 134h2v1h-2zM935 135h2v1h-2zM937 136h1v1h-1zM938 137h2v1h-2zM940 138h2v1h-2zM942 139h3v1h-3zM945 140h2v1h-2zM947 141h2v1h-2zM949 142h2v1h-2zM951 143h1v1h-1zM952 144h1v1h-1zM953 145h2v1h-2zM955 146h1v1h-1zM956 147h1v1h-1zM957 148h1v1h-1zM958 149h1v1h-1zM959 150h2v1h-2zM961 151h1v1h-1zM962 152h1v1h-1zM963 153h1v1h-1zM964 154h1v1h-1zM965 155h1v1h-1zM966 156h1v1h-1zM967 157h1v1h-1zM968 158h1v1h-1zM969 159h1v1h-1zM970 160h1v1h-1zM971 161h1v1h-1zM972 162h1v1h-1zM973 163h1v1h-1zM974 164h1v1h-1zM975 165h2v1h-2zM977 166h1v1h-1zM978 167h1v1h-1zM979 168h1v1h-1zM980 169h1v1h-1zM981 170h1v1h-1zM982 171h1v1h-1zM983 172h2v1h-2zM985 173h1v1h-1zM986 174h1v1h-1zM987 175h1v1h-1zM988 176h2v1h-2zM990 177h2v1h-2zM992 178h2v1h-2zM994 179h2v1h-2zM996 180h2v1h-2zM998 181h2v1h-2zM1000 182h2v1h-2zM1002 183h2v1h-2zM1004 184h1v1h-1zM1005 185h2v1h-2zM1007 186h2v1h-2zM1009 187h1v1h-1zM1010 188h2v1h-2zM1012 189h1v1h-1zM1013 190h1v1h-1zM1014 191h1v1h-1zM1015 192h1v1h-1zM1016 193h1v2h-1zM1017 195h1v1h-1zM1018 196h1v1h-1zM1019 197h1v1h-1zM1020 198h1v1h-1zM1021 199h1v1h-1zM1022 200h1v1h-1zM1023 201h1v1h-1zM1024 202h1v2h-1zM1025 204h1v1h-1zM1026 205h1v1h-1zM1027 206h1v1h-1zM1028 207h1v1h-1zM1029 208h1v1h-1zM1030 209h1v2h-1zM1031 211h1v1h-1zM1032 212h1v1h-1zM1033 213h1v1h-1zM1034 214h1v2h-1zM1035 216h1v1h-1zM1036 217h1v1h-1zM1037 218h1v1h-1zM1038 219h1v2h-1zM1039 221h1v1h-1zM1040 222h1v1h-1zM1041 223h1v1h-1zM1042 224h1v2h-1zM1043 226h1v1h-1zM1044 227h1v1h-1zM1045 228h1v1h-1zM1046 229h1v1h-1zM1047 230h1v1h-1zM1048 231h1v1h-1zM1049 232h1v1h-1zM1050 233h1v1h-1zM1051 234h1v1h-1zM1052 235h1v1h-1zM1053 236h2v1h-2zM1055 237h2v1h-2zM1057 238h1v1h-1zM1058 239h2v1h-2zM1060 240h1v1h-1zM1061 241h1v2h-1zM1062 243h1v1h-1zM1063 244h1v1h-1zM1064 245h1v2h-1zM1065 247h1v1h-1zM1066 248h1v1h-1zM1067 249h1v2h-1zM1068 251h1v1h-1zM1069 252h1v1h-1zM1070 253h1v1h-1zM1071 254h1v1h-1zM1072 255h1v1h-1zM1073 256h1v1h-1zM1074 257h1v1h-1zM1075 258h1v1h-1zM1076 259h1v1h-1zM1077 260h1v1h-1zM1078 261h1v2h-1zM1079 263h1v1h-1zM1080 264h1v1h-1zM1081 265h1v1h-1zM1082 266h1v2h-1zM1083 268h1v1h-1zM1084 269h1v1h-1zM1085 270h1v1h-1zM1086 271h1v1h-1zM1087 272h1v1h-1zM1088 273h1v1h-1zM1089 274h1v1h-1zM1090 275h1v1h-1zM1091 276h1v1h-1zM1092 277h1v1h-1zM1093 278h1v1h-1zM1094 279h1v1h-1zM1095 280h1v1h-1zM1096 281h1v1h-1zM1097 282h1v1h-1zM1098 283h1v1h-1zM1099 284h1v1h-1zM1100 285h1v1h-1zM1101 286h2v1h-2zM1103 287h1v1h-1zM1104 288h1v1h-1zM1105 289h2v1h-2zM1107 290h1v1h-1zM1108 291h1v1h-1zM1109 292h1v1h-1zM1110 293h1v1h-1zM1111 294h2v1h-2zM1113 295h1v1h-1zM1114 296h1v1h-1zM1115 297h1v1h-1z" fill="#ffff00"/>
<path d="M4 388h2v1h-2zM6 389h2v1h-2zM8 390h2v1h-2zM10 391h2v1h-2zM12 392h1v1h-1zM13 393h2v1h-2zM15 394h1v1h-1zM16 395h1v1h-1zM17 396h2v1h-2zM19 397h1v1h-1zM20 398h5v1h-5zM25 399h4v1h-4zM29 400h1v1h-1zM30 401h1v2h-1zM31 403h1v1h-1zM32 404h1v1h-1zM33 405h1v1h-1zM34 406h1v2h-1zM35 408h1v1h-1zM36 409h1v1h-1zM37 410h1v1h-1zM38 411h1v1h-1zM39 412h1v1h-1zM40 413h1v2h-1zM41 415h1v1h-1zM42 416h1v1h-1zM43 417h1v1h-1zM44 418h1v1h-1zM45 419h1v1h-1zM46 420h1v1h-1zM47 421h1v1h-1zM48 422h1v2h-1zM49 424h1v1h-1zM50 425h1v1h-1zM51 426h1v1h-1zM52 427h5v1h-5zM57 428h4v1h-4zM61 429h2v1h-2zM63 430h1v1h-1zM64 431h1v1h-1zM65 432h2v1h-2zM67 433h1v1h-1zM68 434h2v1h-2zM70 435h3v1h-3zM73 436h2v1h-2zM75 437h3v1h-3zM78 438h3v1h-3zM81 439h2v1h-2zM83 440h6v1h-6zM89 439h4v1h-4zM93 438h1v1h-1zM94 437h1v1h-1zM95 436h1v1h-1zM96 435h1v1h-1zM97 434h1v1h-1zM98 433h1v1h-1zM99 432h1v1h-1zM100 431h1v1h-1zM101 430h1v1h-1zM102 429h1v1h-1zM103 428h2v1h-2zM105 427h1v1h-1zM106 426h1v1h-1zM107 425h1v1h-1zM108 424h1v1h-1zM109 423h2v1h-2zM111 422h2v1h-2zM113 421h1v1h-1zM114 420h2v1h-2zM116 419h1v1h-1zM117 418h2v1h-2zM119 417h2v1h-2zM121 416h1v1h-1zM122 415h2v1h-2zM124 414h1v1h-1zM125 413h1v1h-1zM126 412h1v1h-1zM127 411h1v1h-1zM128 410h1v1h-1zM129 409h1v1h-1zM130 408h1v1h-1zM131 407h1v1h-1zM132 406h1v1h-1zM133 405h1v1h-1zM134 404h1v1h-1zM135 403h2v1h-2zM137 402h1v1h-1zM138 401h1v1h-1zM139 400h1v1h-1zM140 399h1v1h-1zM141 398h1v1h-1zM141 397h1v1h-1zM142 396h1v1h-1zM143 395h1v1h-1zM144 394h1v1h-1zM144 393h1v1h-1zM145 392h1v1h-1zM146 391h1v1h-1zM147 390h1v1h-1zM147 389h1v1h-1zM148 388h1v1h-1zM149 387h1v1h-1zM150 386h1v1h-1zM150 385h1v1h-1zM151 384h1v1h-1zM152 383h1v1h-1zM153 382h1v1h-1zM154 381h1v1h-1zM154 380h1v1h-1zM155 379h1v1h-1zM156 378h1v1h-1zM157 377h1v1h-1zM157 376h1v1h-1zM158 375h1v1h-1zM158 374h1v1h-1zM159 373h1v1h-1zM160 372h1v1h-1zM160 371h1v1h-1zM161 370h1v1h-1zM162 369h1v1h-1zM162 368h1v1h-1zM163 367h1v1h-1zM163 366h1v1h-1zM164 365h1v1h-1zM165 364h2v1h-2zM167 363h1v1h-1zM168 362h1v1h-1zM169 361h2v1h-2zM171 360h1v1h-1zM172 359h1v1h-1zM173 358h2v1h-2zM175 357h2v1h-2zM177 356h1v1h-1zM178 355h2v1h-2zM180 354h1v1h-1zM181 353h1v1h-1zM182 352h1v1h-1zM183 351h1v1h-1zM184 350h1v1h-1zM184 349h1v1h-1zM185 348h1v1h-1zM186 347h1v1h-1zM187 346h1v1h-1zM188 345h1v1h-1zM189 344h1v1h-1zM190 343h1v1h-1zM191 342h1v1h-1zM192 341h1v1h-1zM193 340h1v1h-1zM194 339h1v1h-1zM195 338h1v1h-1zM196 337h2v1h-2zM198 336h2v1h-2zM200 335h2v1h-2zM202 334h2v1h-2zM204 333h2v1h-2zM206 332h3v1h-3zM209 331h2v1h-2zM211 330h4v1h-4zM215 329h4v1h-4zM219 328h6v1h-6zM225 327h5v1h-5zM230 326h3v1h-3zM233 325h2v1h-2zM235 324h3v1h-3zM238 323h2v1h-2zM240 322h2v1h-2zM242 321h2v1h-2zM244 320h2v1h-2zM246 319h2v1h-2zM248 318h2v1h-2zM250 317h2v1h-2zM252 316h2v1h-2zM254 315h3v1h-3zM257 314h2v1h-2zM259 313h4v1h-4zM263 312h4v1h-4zM267 311h2v1h-2zM269 310h1v1h-1zM270 309h1v1h-1zM271 308h2v1h-2zM273 307h1v1h-1zM274 306h1v1h-1zM275 305h1v1h-1zM276 304h1v1h-1zM277 303h1v1h-1zM278 302h1v1h-1zM278 301h1v1h-1zM279 300h1v1h-1zM280 299h1v1h-1zM281 298h1v1h-1zM282 297h1v1h-1zM282 296h1v1h-1zM283 295h1v1h-1zM284 294h1v1h-1zM285 293h1v1h-1zM285 292h1v1h-1zM286 291h1v1h-1zM287 290h1v1h-1zM287 289h1v1h-1zM288 288h1v1h-1zM289 287h1v1h-1zM289 286h1v1h-1zM290 285h1v1h-1zM291 284h1v1h-1zM291 283h1v1h-1zM292 282h1v1h-1zM293 281h1v1h-1zM294 280h1v1h-1zM295 279h2v1h-2zM297 278h1v1h-1zM298 277h1v1h-1zM299 276h1v1h-1zM300 275h1v1h-1zM301 274h1v1h-1zM302 273h1v1h-1zM303 272h2v1h-2zM305 271h1v1h-1zM306 270h1v1h-1zM307 269h1v1h-1zM308 268h1v1h-1zM309 267h1v1h-1zM310 266h1v1h-1zM311 265h1v1h-1zM312 264h1v1h-1zM313 263h1v1h-1zM314 262h1v1h-1zM315 261h1v1h-1zM316 260h1v1h-1zM317 259h2v1h-2zM319 258h2v1h-2zM321 257h1v1h-1zM322 256h2v1h-2zM324 255h1v1h-1zM325 254h2v1h-2zM327 253h2v1h-2zM329 252h1v1h-1zM330 251h2v1h-2zM332 250h3v1h-3zM335 249h4v1h-4zM339 248h6v1h-6zM345 247h6v1h-6zM351 248h4v1h-4zM355 249h6v1h-6zM361 250h8v1h-8zM369 251h8v1h-8zM377 250h5v1h-5zM382 251h3v1h-3zM385 252h2v1h-2zM387 253h2v1h-2zM389 254h2v1h-2zM391 255h1v1h-1zM392 256h1v1h-1zM393 257h2v1h-2zM395 258h1v1h-1zM396 259h1v1h-1zM397 260h2v1h-2zM399 261h1v1h-1zM400 262h1v1h-1zM401 263h2v1h-2zM403 264h1v1h-1zM404 265h1v1h-1zM405 266h2v1h-2zM407 267h2v1h-2zM409 268h1v1h-1zM410 269h2v1h-2zM412 270h2v1h-2zM414 271h3v1h-3zM417 272h2v1h-2zM419 273h6v1h-6zM425 274h12v1h-12zM437 273h1v1h-1zM438 272h1v1h-1zM439 271h2v1h-2zM441 270h1v1h-1zM442 269h1v1h-1zM443 268h1v1h-1zM444 267h2v1h-2zM446 266h2v1h-2zM448 265h2v1h-2zM450 264h2v1h-2zM452 263h1v1h-1zM453 262h2v1h-2zM455 261h2v1h-2zM457 260h1v1h-1zM458 259h2v1h-2zM460 258h1v1h-1zM461 257h1v1h-1zM462 256h1v1h-1zM463 255h1v1h-1zM464 254h1v1h-1zM465 253h1v1h-1zM466 252h1v1h-1zM467 251h1v1h-1zM468 250h1v1h-1zM469 249h2v1h-2zM471 248h2v1h-2zM473 247h1v1h-1zM474 246h2v1h-2zM476 245h3v1h-3zM479 244h4v1h-4zM483 243h3v1h-3zM486 242h3v1h-3zM489 241h2v1h-2zM491 240h6v1h-6zM497 239h5v1h-5zM502 238h3v1h-3zM505 237h2v1h-2zM507 236h6v1h-6zM513 235h8v1h-8zM521 234h4v1h-4zM525 235h2v1h-2zM527 236h1v1h-1zM528 237h1v1h-1zM529 238h2v1h-2zM531 239h1v1h-1zM532 240h1v1h-1zM533 241h1v1h-1zM534 242h1v1h-1zM535 243h1v1h-1zM536 244h1v1h-1zM537 245h1v1h-1zM538 246h1v1h-1zM539 247h1v1h-1zM540 248h1v1h-1zM541 249h1v1h-1zM542 250h1v1h-1zM543 251h2v1h-2zM545 252h1v1h-1zM546 253h1v1h-1zM547 254h1v1h-1zM548 255h1v1h-1zM549 256h1v2h-1zM550 258h1v2h-1zM551 260h1v1h-1zM552 261h1v2h-1zM553 263h1v1h-1zM554 264h1v2h-1zM555 266h1v2h-1zM556 268h1v1h-1zM557 269h1v1h-1zM558 270h1v2h-1zM559 272h1v1h-1zM560 273h1v1h-1zM561 274h1v1h-1zM562 275h1v2h-1zM563 277h1v1h-1zM564 278h1v1h-1zM565 279h1v1h-1zM566 280h1v1h-1zM567 281h1v1h-1zM568 282h1v2h-1zM569 284h1v1h-1zM570 285h1v1h-1zM571 286h1v1h-1zM572 287h1v1h-1zM573 288h1v1h-1zM574 289h1v1h-1zM575 290h1v1h-1zM576 291h1v2h-1zM577 293h1v1h-1zM578 294h1v1h-1zM579 295h1v1h-1zM580 296h1v1h-1zM581 297h1v1h-1zM582 298h1v2h-1zM583 300h1v1h-1zM584 301h1v1h-1zM585 302h1v1h-1zM586 303h1v2h-1zM587 305h1v1h-1zM588 306h2v1h-2zM590 307h2v1h-2zM592 308h2v1h-2zM594 309h2v1h-2zM596 310h1v1h-1zM597 311h1v1h-1zM598 312h1v1h-1zM599 313h2v1h-2zM601 314h1v1h-1zM602 315h1v1h-1zM603 316h1v1h-1zM604 317h5v1h-5zM609 318h5v1h-5zM614 319h2v1h-2zM616 320h2v1h-2zM618 321h2v1h-2zM620 322h3v1h-3zM623 323h4v1h-4zM627 324h10v1h-10zM637 323h2v1h-2zM639 322h1v1h-1zM640 321h1v1h-1zM641 320h2v1h-2zM643 319h1v1h-1zM644 318h1v1h-1zM645 317h2v1h-2zM647 316h1v1h-1zM648 315h1v1h-1zM649 314h2v1h-2zM651 313h1v1h-1zM652 312h2v1h-2zM654 311h3v1h-3zM657 310h2v1h-2zM659 309h3v1h-3zM662 308h2v1h-2zM664 307h2v1h-2zM666 306h2v1h-2zM668 305h1v1h-1zM669 304h1v1h-1zM670 303h1v1h-1zM671 302h2v1h-2zM673 301h1v1h-1zM674 300h1v1h-1zM675 299h1v1h-1zM676 298h1v1h-1zM677 297h1v1h-1zM678 296h1v1h-1zM679 295h2v1h-2zM681 294h1v1h-1zM682 293h1v1h-1zM683 292h1v1h-1zM684 291h1v1h-1zM685 290h2v1h-2zM687 289h2v1h-2zM689 288h1v1h-1zM690 287h2v1h-2zM692 286h1v1h-1zM693 285h2v1h-2zM695 284h1v1h-1zM696 283h1v1h-1zM697 282h2v1h-2zM699 281h1v1h-1zM700 280h2v1h-2zM702 279h3v1h-3zM705 278h2v1h-2zM707 277h2v1h-2zM709 276h1v1h-1zM710 275h1v1h-1zM711 274h1v1h-1zM712 273h1v1h-1zM712 272h1v1h-1zM713 271h1v1h-1zM714 270h1v1h-1zM715 269h1v1h-1zM716 268h1v1h-1zM717 267h1v1h-1zM718 266h1v1h-1zM719 265h1v1h-1zM720 264h1v1h-1zM721 263h1v1h-1zM722 262h1v1h-1zM723 261h1v1h-1zM724 260h1v1h-1zM725 259h1v1h-1zM725 258h1v1h-1zM726 257h1v1h-1zM727 256h1v1h-1zM727 255h1v1h-1zM728 254h1v1h-1zM729 253h1v1h-1zM729 252h1v1h-1zM730 251h1v1h-1zM731 250h1v1h-1zM731 249h1v1h-1zM732 248h1v1h-1zM733 247h1v1h-1zM733 246h1v1h-1zM734 245h1v1h-1zM734 244h1v1h-1zM735 243h1v1h-1zM736 242h1v1h-1zM736 241h1v1h-1zM737 240h1v1h-1zM738 239h1v1h-1zM738 238h1v1h-1zM739 237h1v1h-1zM739 236h1v1h-1zM740 235h1v1h-1zM741 234h1v1h-1zM742 233h1v1h-1zM743 232h1v1h-1zM744 231h1v1h-1zM744 230h1v1h-1zM745 229h1v1h-1zM746 228h1v1h-1zM747 227h1v1h-1zM748 226h1v1h-1zM748 225h1v1h-1zM749 224h1v1h-1zM749 223h1v1h-1zM750 222h1v1h-1zM750 221h1v1h-1zM751 220h1v1h-1zM751 219h1v1h-1zM752 218h1v1h-1zM752 217h1v1h-1zM753 216h1v1h-1zM753 215h1v1h-1zM754 214h1v1h-1zM754 213h1v1h-1zM755 212h1v1h-1zM755 211h1v1h-1zM756 210h1v1h-1zM757 209h1v1h-1zM757 208h1v1h-1zM758 207h1v1h-1zM758 206h1v1h-1zM759 205h1v1h-1zM759 204h1v1h-1zM760 203h1v1h-1zM761 202h1v1h-1zM761 201h1v1h-1zM762 200h1v1h-1zM762 199h1v1h-1zM763 198h1v1h-1zM763 197h1v1h-1zM764 196h1v1h-1zM765 195h1v1h-1zM765 194h1v1h-1zM766 193h1v1h-1zM766 192h1v1h-1zM767 191h1v1h-1zM767 190h1v1h-1zM768 189h1v1h-1zM769 188h1v1h-1zM769 187h1v1h-1zM770 186h1v1h-1zM770 185h1v1h-1zM771 184h1v1h-1zM771 183h1v1h-1zM772 182h1v1h-1zM773 181h1v1h-1zM773 180h1v1h-1zM774 179h1v1h-1zM775 178h1v1h-1zM776 177h1v1h-1zM776 176h1v1h-1zM777 175h1v1h-1zM778 174h1v1h-1zM779 173h1v1h-1zM779 172h1v1h-1zM780 171h1v1h-1zM781 170h1v1h-1zM781 169h1v1h-1zM782 168h1v1h-1zM782 167h1v1h-1zM783 166h1v1h-1zM784 165h1v1h-1zM784 164h1v1h-1zM785 163h1v1h-1zM786 162h1v1h-1zM786 161h1v1h-1zM787 160h1v1h-1zM787 159h1v1h-1zM788 158h1v1h-1zM789 157h1v1h-1zM789 156h1v1h-1zM790 155h1v1h-1zM791 154h1v1h-1zM791 153h1v1h-1zM792 152h1v1h-1zM793 151h1v1h-1zM793 150h1v1h-1zM794 149h1v1h-1zM795 148h1v1h-1zM795 147h1v1h-1zM796 146h1v1h-1zM797 145h1v1h-1zM798 144h1v1h-1zM798 143h1v1h-1zM799 142h1v1h-1zM800 141h1v1h-1zM801 140h1v1h-1zM802 139h1v1h-1zM802 138h1v1h-1zM803 137h1v1h-1zM804 136h1v1h-1zM805 135h1v1h-1zM806 134h1v1h-1zM806 133h1v1h-1zM807 132h1v1h-1zM808 131h1v1h-1zM809 130h1v1h-1zM810 129h1v1h-1zM810 128h1v1h-1zM811 127h1v1h-1zM812 126h1v1h-1zM813 125h1v1h-1zM814 124h1v1h-1zM814 123h1v1h-1zM815 122h1v1h-1zM816 121h1v1h-1zM817 120h1v1h-1zM818 119h1v1h-1zM818 118h1v1h-1zM819 117h1v1h-1zM820 116h1v1h-1zM821 115h1v1h-1zM822 114h1v1h-1zM823 113h2v1h-2zM825 112h1v1h-1zM826 111h1v1h-1zM827 110h1v1h-1zM828 109h2v1h-2zM830 108h2v1h-2zM832 107h2v1h-2zM834 106h2v1h-2zM836 105h3v1h-3zM839 104h4v1h-4zM843 103h3v1h-3zM846 102h3v1h-3zM849 101h2v1h-2zM851 100h3v1h-3zM854 99h2v1h-2zM856 98h2v1h-2zM858 97h2v1h-2zM860 96h2v1h-2zM862 97h3v1h-3zM865 98h2v1h-2zM867 99h2v1h-2zM869 100h2v1h-2zM871 101h2v1h-2zM873 102h1v1h-1zM874 103h2v1h-2zM876 104h1v1h-1zM877 105h1v1h-1zM878 106h1v1h-1zM879 107h2v1h-2zM881 108h1v1h-1zM882 109h1v1h-1zM883 110h1v1h-1zM884 111h1v1h-1zM885 112h1v1h-1zM886 113h1v2h-1zM887 115h1v1h-1zM888 116h1v1h-1zM889 117h1v1h-1zM890 118h1v2h-1zM891 120h1v1h-1zM892 121h1v1h-1zM893 122h1v1h-1zM894 123h1v1h-1zM895 124h2v1h-2zM897 125h1v1h-1zM898 126h1v1h-1zM899 127h1v1h-1zM900 128h1v1h-1zM901 129h1v1h-1zM902 130h1v1h-1zM903 131h1v1h-1zM904 132h1v1h-1zM905 133h1v1h-1zM906 134h1v1h-1zM907 135h1v1h-1zM908 136h1v1h-1zM909 137h2v1h-2zM911 138h2v1h-2zM913 139h1v1h-1zM914 140h2v1h-2zM916 141h2v1h-2zM918 142h2v1h-2zM920 143h2v1h-2zM922 144h2v1h-2zM924 145h1v1h-1zM925 146h1v1h-1zM926 147h1v1h-1zM927 148h2v1h-2zM929 149h1v1h-1zM930 150h1v1h-1zM931 151h1v1h-1zM932 152h1v1h-1zM933 153h2v1h-2zM935 154h2v1h-2zM937 155h1v1h-1zM938 156h2v1h-2zM940 157h1v1h-1zM941 158h2v1h-2zM943 159h2v1h-2zM945 160h1v1h-1zM946 161h2v1h-2zM948 162h1v1h-1zM949 163h2v1h-2zM951 164h2v1h-2zM953 165h1v1h-1zM954 166h2v1h-2zM956 167h1v1h-1zM957 168h1v2h-1zM958 170h1v1h-1zM959 171h1v2h-1zM960 173h1v1h-1zM961 174h1v2h-1zM962 176h1v1h-1zM963 177h1v2h-1zM964 179h1v1h-1zM965 180h1v2h-1zM966 182h1v1h-1zM967 183h1v2h-1zM968 185h1v1h-1zM969 186h1v2h-1zM970 188h1v1h-1zM971 189h1v2h-1zM972 191h1v1h-1zM973 192h1v1h-1zM974 193h1v2h-1zM975 195h1v1h-1zM976 196h1v1h-1zM977 197h1v1h-1zM978 198h1v2h-1zM979 200h1v1h-1zM980 201h1v1h-1zM981 202h2v1h-2zM983 203h1v1h-1zM984 204h1v1h-1zM985 205h2v1h-2zM987 206h1v1h-1zM988 207h5v1h-5zM993 208h14v1h-14zM1007 209h4v1h-4zM1011 210h3v1h-3zM1014 211h2v1h-2zM1016 212h2v1h-2zM1018 213h2v1h-2zM1020 214h1v1h-1zM1021 215h1v1h-1zM1022 216h1v1h-1zM1023 217h2v1h-2zM1025 218h1v1h-1zM1026 219h1v1h-1zM1027 220h1v1h-1zM1028 221h1v1h-1zM1029 222h1v2h-1zM1030 224h1v2h-1zM1031 226h1v1h-1zM1032 227h1v2h-1zM1033 229h1v1h-1zM1034 230h1v2h-1zM1035 232h1v2h-1zM1036 234h1v1h-1zM1037 235h1v2h-1zM1038 237h1v2h-1zM1039 239h1v1h-1zM1040 240h1v2h-1zM1041 242h1v1h-1zM1042 243h1v2h-1zM1043 245h1v2h-1zM1044 247h1v1h-1zM1045 248h1v1h-1zM1046 249h1v1h-1zM1047 250h1v1h-1zM1048 251h1v2h-1zM1049 253h1v1h-1zM1050 254h1v1h-1zM1051 255h1v1h-1zM1052 256h1v1h-1zM1053 257h1v2h-1zM1054 259h1v2h-1zM1055 261h1v1h-1zM1056 262h1v2h-1zM1057 264h1v1h-1zM1058 265h1v2h-1zM1059 267h1v2h-1zM1060 269h1v1h-1zM1061 270h1v2h-1zM1062 272h1v2h-1zM1063 274h1v2h-1zM1064 276h1v2h-1zM1065 278h1v2h-1zM1066 280h1v2h-1zM1067 282h1v2h-1zM1068 284h1v1h-1zM1069 285h1v1h-1zM1070 286h1v1h-1zM1071 287h1v1h-1zM1072 288h1v2h-1zM1073 290h1v1h-1zM1074 291h1v1h-1zM1075 292h1v1h-1zM1076 293h1v1h-1zM1077 294h1v1h-1zM1078 295h1v1h-1zM1079 296h1v1h-1zM1080 297h1v2h-1zM1081 299h1v1h-1zM1082 300h1v1h-1zM1083 301h1v1h-1zM1084 302h1v1h-1zM1085 303h2v1h-2zM1087 304h2v1h-2zM1089 305h1v1h-1zM1090 306h2v1h-2zM1092 307h1v1h-1zM1093 308h1v1h-1zM1094 309h1v1h-1zM1095 310h2v1h-2zM1097 311h1v1h-1zM1098 312h1v1h-1zM1099 313h1v1h-1zM1100 314h1v1h-1zM1101 315h1v1h-1zM1102 316h1v2h-1zM1103 318h1v1h-1zM1104 319h1v1h-1zM1105 320h1v1h-1zM1106 321h1v2h-1zM1107 323h1v1h-1zM1108 324h1v1h-1zM1109 325h1v1h-1zM1110 326h1v2h-1zM1111 328h1v1h-1zM1112 329h1v1h-1zM1113 330h1v1h-1zM1114 331h1v2h-1zM1115 333h1v1h-1z" fill="#ff0000"/>
<path d="M4 411h1v1h-1zM5 412h1v1h-1zM6 413h1v1h-1zM7 414h1v1h-1zM8 415h1v2h-1zM9 417h1v1h-1zM10 418h1v1h-1zM11 419h1v1h-1zM12 420h5v1h-5zM17 421h12v1h-12zM29 422h2v1h-2zM31 423h1v1h-1zM32 424h1v1h-1zM33 425h2v1h-2zM35 426h1v1h-1zM36 427h9v1h-9zM45 428h1v2h-1zM46 430h1v1h-1zM47 431h1v1h-1zM48 432h1v2h-1zM49 434h1v1h-1zM50 435h1v1h-1zM51 436h1v2h-1zM52 438h1v1h-1zM53 439h1v1h-1zM54 440h1v1h-1zM55 441h1v1h-1zM56 442h1v1h-1zM57 443h1v1h-1zM58 444h1v1h-1zM59 445h1v1h-1zM60 446h2v1h-2zM62 447h2v1h-2zM64 448h2v1h-2zM66 449h2v1h-2zM68 450h2v1h-2zM70 451h3v1h-3zM73 452h2v1h-2zM75 453h2v1h-2zM77 454h2v1h-2zM79 455h1v1h-1zM80 456h1v1h-1zM81 457h2v1h-2zM83 458h1v1h-1zM84 459h1v1h-1zM85 458h1v1h-1zM86 457h1v1h-1zM86 456h1v1h-1zM87 455h1v1h-1zM88 454h1v1h-1zM89 453h1v1h-1zM90 452h1v1h-1zM90 451h1v1h-1zM91 450h1v1h-1zM92 449h1v1h-1zM93 448h1v1h-1zM93 447h1v1h-1zM94 446h1v1h-1zM94 445h1v1h-1zM95 444h1v1h-1zM95 443h1v1h-1zM96 442h1v1h-1zM96 441h1v1h-1zM97 440h1v1h-1zM97 439h1v1h-1zM98 438h1v1h-1zM98 437h1v1h-1zM99 436h1v1h-1zM99 435h1v1h-1zM100 434h1v1h-1zM100 433h1v1h-1zM101 432h1v1h-1zM101 431h1v1h-1zM101 430h1v1h-1zM102 429h1v1h-1zM102 428h1v1h-1zM102 427h1v1h-1zM102 426h1v1h-1zM103 425h1v1h-1zM103 424h1v1h-1zM103 423h1v1h-1zM104 422h1v1h-1zM104 421h1v1h-1zM104 420h1v1h-1zM105 419h1v1h-1zM105 418h1v1h-1zM105 417h1v1h-1zM106 416h1v1h-1zM106 415h1v1h-1zM106 414h1v1h-1zM106 413h1v1h-1zM107 412h1v1h-1zM107 411h1v1h-1zM107 410h1v1h-1zM108 409h1v1h-1zM108 408h1v1h-1zM109 407h1v1h-1zM109 406h1v1h-1zM110 405h1v1h-1zM110 404h1v1h-1zM111 403h1v1h-1zM111 402h1v1h-1zM112 401h1v1h-1zM112 400h1v1h-1zM113 399h1v1h-1zM113 398h1v1h-1zM114 397h1v1h-1zM114 396h1v1h-1zM115 395h1v1h-1zM115 394h1v1h-1zM116 393h1v1h-1zM117 392h1v1h-1zM117 391h1v1h-1zM118 390h1v1h-1zM118 389h1v1h-1zM119 388h1v1h-1zM119 387h1v1h-1zM120 386h1v1h-1zM120 385h1v1h-1zM121 384h1v1h-1zM121 383h1v1h-1zM122 382h1v1h-1zM122 381h1v1h-1zM123 380h1v1h-1zM123 379h1v1h-1zM124 378h1v1h-1zM124 377h1v1h-1zM125 376h1v1h-1zM125 375h1v1h-1zM126 374h1v1h-1zM126 373h1v1h-1zM127 372h1v1h-1zM127 371h1v1h-1zM128 370h1v1h-1zM128 369h1v1h-1zM128 368h1v1h-1zM129 367h1v1h-1zM129 366h1v1h-1zM130 365h1v1h-1zM130 364h1v1h-1zM131 363h1v1h-1zM131 362h1v1h-1zM132 361h1v1h-1zM132 360h1v1h-1zM132 359h1v1h-1zM133 358h1v1h-1zM133 357h1v1h-1zM133 356h1v1h-1zM134 355h1v1h-1zM134 354h1v1h-1zM134 353h1v1h-1zM135 352h1v1h-1zM135 351h1v1h-1zM135 350h1v1h-1zM136 349h1v1h-1zM136 348h1v1h-1zM137 347h1v1h-1zM137 346h1v1h-1zM137 345h1v1h-1zM138 344h1v1h-1zM138 343h1v1h-1zM138 342h1v1h-1zM139 341h1v1h-1zM139 340h1v1h-1zM139 339h1v1h-1zM140 338h1v1h-1zM140 337h1v1h-1zM141 336h1v1h-1zM142 335h1v1h-1zM142 334h1v1h-1zM143 333h1v1h-1zM144 332h1v1h-1zM145 331h1v1h-1zM146 330h1v1h-1zM146 329h1v1h-1zM147 328h1v1h-1zM148 327h1v1h-1zM149 326h1v1h-1zM150 325h1v1h-1zM151 324h2v1h-2zM153 323h1v1h-1zM154 322h1v1h-1zM155 321h1v1h-1zM156 320h5v1h-5zM161 321h5v1h-5zM166 322h2v1h-2zM168 323h2v1h-2zM170 324h2v1h-2zM172 325h1v1h-1zM173 326h2v1h-2zM175 327h2v1h-2zM177 328h1v1h-1zM178 329h2v1h-2zM180 330h2v1h-2zM182 331h3v1h-3zM185 332h2v1h-2zM187 333h2v1h-2zM189 334h2v1h-2zM191 335h2v1h-2zM193 336h1v1h-1zM194 337h2v1h-2zM196 338h5v1h-5zM201 339h13v1h-13zM214 338h3v1h-3zM217 337h2v1h-2zM219 336h2v1h-2zM221 335h1v1h-1zM222 334h1v1h-1zM223 333h1v1h-1zM224 332h1v1h-1zM225 331h1v1h-1zM226 330h1v1h-1zM227 329h1v1h-1zM228 328h1v1h-1zM229 327h1v1h-1zM229 326h1v1h-1zM230 325h1v1h-1zM231 324h1v1h-1zM232 323h1v1h-1zM232 322h1v1h-1zM233 321h1v1h-1zM234 320h1v1h-1zM235 319h1v1h-1zM235 318h1v1h-1zM236 317h1v1h-1zM237 316h1v1h-1zM238 315h1v1h-1zM238 314h1v1h-1zM239 313h1v1h-1zM240 312h1v1h-1zM241 311h1v1h-1zM242 310h1v1h-1zM242 309h1v1h-1zM243 308h1v1h-1zM244 307h1v1h-1zM245 306h1v1h-1zM245 305h1v1h-1zM246 304h1v1h-1zM247 303h1v1h-1zM248 302h1v1h-1zM248 301h1v1h-1zM249 300h1v1h-1zM250 299h1v1h-1zM251 298h1v1h-1zM251 297h1v1h-1zM252 296h1v1h-1zM253 295h1v1h-1zM254 294h1v1h-1zM255 293h1v1h-1zM256 292h1v1h-1zM257 291h1v1h-1zM258 290h1v1h-1zM259 289h1v1h-1zM260 288h1v1h-1zM261 287h2v1h-2zM263 286h1v1h-1zM264 285h1v1h-1zM265 284h2v1h-2zM267 283h1v1h-1zM268 282h1v1h-1zM269 281h1v1h-1zM269 280h1v1h-1zM270 279h1v1h-1zM270 278h1v1h-1zM271 277h1v1h-1zM272 276h1v1h-1zM272 275h1v1h-1zM273 274h1v1h-1zM274 273h1v1h-1zM274 272h1v1h-1zM275 271h1v1h-1zM275 270h1v1h-1zM276 269h1v1h-1zM277 268h1v1h-1zM277 267h1v1h-1zM278 266h1v1h-1zM278 265h1v1h-1zM279 264h1v1h-1zM280 263h1v1h-1zM280 262h1v1h-1zM281 261h1v1h-1zM282 260h1v1h-1zM282 259h1v1h-1zM283 258h1v1h-1zM283 257h1v1h-1zM284 256h1v1h-1zM285 255h1v1h-1zM286 254h1v1h-1zM286 253h1v1h-1zM287 252h1v1h-1zM288 251h1v1h-1zM289 250h1v1h-1zM290 249h1v1h-1zM290 248h1v1h-1zM291 247h1v1h-1zM292 246h2v1h-2zM294 245h2v1h-2zM296 244h2v1h-2zM298 243h2v1h-2zM300 242h2v1h-2zM302 241h3v1h-3zM305 240h2v1h-2zM307 239h2v1h-2zM309 238h1v1h-1zM310 237h1v1h-1zM311 236h2v1h-2zM313 235h1v1h-1zM314 234h1v1h-1zM315 233h1v1h-1zM316 232h1v1h-1zM317 231h2v1h-2zM319 230h1v1h-1zM320 229h1v1h-1zM321 228h2v1h-2zM323 227h1v1h-1zM324 226h2v1h-2zM326 227h2v1h-2zM328 228h2v1h-2zM330 229h2v1h-2zM332 230h1v1h-1zM333 231h1v1h-1zM334 232h1v1h-1zM335 233h1v1h-1zM336 234h1v2h-1zM337 236h1v1h-1zM338 237h1v1h-1zM339 238h1v1h-1zM340 239h1v1h-1zM341 240h1v1h-1zM342 241h1v1h-1zM343 242h1v1h-1zM344 243h1v2h-1zM345 245h1v1h-1zM346 246h1v1h-1zM347 247h1v1h-1zM348 248h1v1h-1zM349 249h1v1h-1zM350 250h1v1h-1zM351 251h1v1h-1zM352 252h1v1h-1zM353 253h1v1h-1zM354 254h1v1h-1zM355 255h1v1h-1zM356 256h1v1h-1zM357 257h1v1h-1zM358 258h1v1h-1zM359 259h2v1h-2zM361 260h1v1h-1zM362 261h1v1h-1zM363 262h1v1h-1zM364 263h1v1h-1zM365 264h2v1h-2zM367 265h2v1h-2zM369 266h1v1h-1zM370 267h2v1h-2zM372 268h1v1h-1zM373 269h1v1h-1zM374 270h1v1h-1zM375 271h2v1h-2zM377 272h1v1h-1zM378 273h1v1h-1zM379 274h1v1h-1zM380 275h5v1h-5zM385 276h5v1h-5zM390 277h2v1h-2zM392 278h2v1h-2zM394 279h2v1h-2zM396 280h3v1h-3zM399 281h4v1h-4zM403 282h6v1h-6zM409 283h8v1h-8zM417 284h4v1h-4zM421 283h2v1h-2zM423 282h1v1h-1zM424 281h1v1h-1zM425 280h2v1h-2zM427 279h1v1h-1zM428 278h1v1h-1zM429 277h2v1h-2zM431 276h2v1h-2zM433 275h1v1h-1zM434 274h2v1h-2zM436 273h1v1h-1zM437 272h1v1h-1zM437 271h1v1h-1zM438 270h1v1h-1zM438 269h1v1h-1zM439 268h1v1h-1zM440 267h1v1h-1zM440 266h1v1h-1zM441 265h1v1h-1zM442 264h1v1h-1zM442 263h1v1h-1zM443 262h1v1h-1zM443 261h1v1h-1zM444 260h1v1h-1zM445 259h1v1h-1zM445 258h1v1h-1zM446 257h1v1h-1zM446 256h1v1h-1zM447 255h1v1h-1zM447 254h1v1h-1zM448 253h1v1h-1zM448 252h1v1h-1zM449 251h1v1h-1zM449 250h1v1h-1zM450 249h1v1h-1zM450 248h1v1h-1zM451 247h1v1h-1zM451 246h1v1h-1zM452 245h1v1h-1zM453 244h1v1h-1zM453 243h1v1h-1zM454 242h1v1h-1zM455 241h1v1h-1zM455 240h1v1h-1zM456 239h1v1h-1zM457 238h1v1h-1zM457 237h1v1h-1zM458 236h1v1h-1zM459 235h1v1h-1zM459 234h1v1h-1zM460 233h1v1h-1zM460 232h1v1h-1zM461 231h1v1h-1zM461 230h1v1h-1zM462 229h1v1h-1zM462 228h1v1h-1zM463 227h1v1h-1zM463 226h1v1h-1zM464 225h1v1h-1zM464 224h1v1h-1zM465 223h1v1h-1zM465 222h1v1h-1zM466 221h1v1h-1zM466 220h1v1h-1zM467 219h1v1h-1zM467 218h1v1h-1zM468 217h1v1h-1zM469 216h1v1h-1zM469 215h1v1h-1zM470 214h1v1h-1zM471 213h1v1h-1zM472 212h1v1h-1zM472 211h1v1h-1zM473 210h1v1h-1zM474 209h1v1h-1zM475 208h1v1h-1zM475 207h1v1h-1zM476 206h5v1h-5zM481 207h8v1h-8zM489 208h4v1h-4zM493 209h1v2h-1zM494 211h1v1h-1zM495 212h1v2h-1zM496 214h1v1h-1zM497 215h1v2h-1zM498 217h1v1h-1zM499 218h1v2h-1zM500 220h1v1h-1zM501 221h1v1h-1zM502 222h1v1h-1zM503 223h2v1h-2zM505 224h1v1h-1zM506 225h1v1h-1zM507 226h1v1h-1zM508 227h1v1h-1zM509 228h1v1h-1zM510 229h1v1h-1zM511 230h1v1h-1zM512 231h1v2h-1zM513 233h1v1h-1zM514 234h1v1h-1zM515 235h1v1h-1zM516 236h1v1h-1zM517 237h1v2h-1zM518 239h1v2h-1zM519 241h1v2h-1zM520 243h1v2h-1zM521 245h1v2h-1zM522 247h1v2h-1zM523 249h1v2h-1zM524 251h1v2h-1zM525 253h1v3h-1zM526 256h1v3h-1zM527 259h1v3h-1zM528 262h1v2h-1zM529 264h1v3h-1zM530 267h1v3h-1zM531 270h1v3h-1zM532 273h1v2h-1zM533 275h1v2h-1zM534 277h1v2h-1zM535 279h1v2h-1zM536 281h1v2h-1zM537 283h1v2h-1zM538 285h1v2h-1zM539 287h1v2h-1zM540 289h1v1h-1zM541 290h1v2h-1zM542 292h1v1h-1zM543 293h1v2h-1zM544 295h1v1h-1zM545 296h1v2h-1zM546 298h1v1h-1zM547 299h1v2h-1zM548 301h1v1h-1zM549 302h1v2h-1zM550 304h1v2h-1zM551 306h1v1h-1zM552 307h1v2h-1zM553 309h1v1h-1zM554 310h1v2h-1zM555 312h1v2h-1zM556 314h1v1h-1zM557 315h1v2h-1zM558 317h1v2h-1zM559 319h1v1h-1zM560 320h1v2h-1zM561 322h1v1h-1zM562 323h1v2h-1zM563 325h1v2h-1zM564 327h1v1h-1zM565 328h1v1h-1zM566 329h1v2h-1zM567 331h1v1h-1zM568 332h1v1h-1zM569 333h1v1h-1zM570 334h1v2h-1zM571 336h1v1h-1zM572 337h1v1h-1zM573 338h2v1h-2zM575 339h2v1h-2zM577 340h1v1h-1zM578 341h2v1h-2zM580 342h2v1h-2zM582 341h2v1h-2zM584 340h2v1h-2zM586 339h2v1h-2zM588 338h1v1h-1zM589 337h2v1h-2zM591 336h1v1h-1zM592 335h1v1h-1zM593 334h2v1h-2zM595 333h1v1h-1zM596 332h5v1h-5zM601 331h4v1h-4zM605 330h1v1h-1zM606 329h1v1h-1zM607 328h2v1h-2zM609 327h1v1h-1zM610 326h1v1h-1zM611 325h1v1h-1zM612 324h1v1h-1zM613 323h1v1h-1zM614 322h1v1h-1zM615 321h1v1h-1zM616 320h1v1h-1zM617 319h1v1h-1zM618 318h1v1h-1zM619 317h1v1h-1zM620 316h1v1h-1zM621 315h2v1h-2zM623 314h2v1h-2zM625 313h1v1h-1zM626 312h2v1h-2zM628 311h1v1h-1zM629 310h1v1h-1zM630 309h1v1h-1zM631 308h2v1h-2zM633 307h1v1h-1zM634 306h1v1h-1zM635 305h1v1h-1zM636 304h1v1h-1zM637 303h1v1h-1zM638 302h1v1h-1zM639 301h1v1h-1zM640 300h1v1h-1zM641 299h1v1h-1zM642 298h1v1h-1zM643 297h1v1h-1zM644 296h1v1h-1zM645 295h2v1h-2zM647 294h2v1h-2zM649 293h1v1h-1zM650 292h2v1h-2zM652 291h1v1h-1zM653 290h2v1h-2zM655 289h2v1h-2zM657 288h1v1h-1zM658 287h2v1h-2zM660 286h9v1h-9zM669 285h2v1h-2zM671 284h1v1h-1zM672 283h1v1h-1zM673 282h2v1h-2zM675 281h1v1h-1zM676 280h1v1h-1zM677 279h1v1h-1zM678 278h1v1h-1zM679 277h1v1h-1zM680 276h1v1h-1zM681 275h1v1h-1zM682 274h1v1h-1zM683 273h1v1h-1zM684 272h2v1h-2zM686 271h2v1h-2zM688 270h2v1h-2zM690 269h2v1h-2zM692 268h2v1h-2zM694 267h2v1h-2zM696 266h2v1h-2zM698 265h2v1h-2zM700 264h1v1h-1zM701 263h2v1h-2zM703 262h2v1h-2zM705 261h1v1h-1zM706 260h2v1h-2zM708 259h1v1h-1zM709 258h1v1h-1zM709 257h1v1h-1zM710 256h1v1h-1zM711 255h1v1h-1zM712 254h1v1h-1zM712 253h1v1h-1zM713 252h1v1h-1zM714 251h1v1h-1zM715 250h1v1h-1zM715 249h1v1h-1zM716 248h1v1h-1zM716 247h1v1h-1zM717 246h1v1h-1zM717 245h1v1h-1zM718 244h1v1h-1zM718 243h1v1h-1zM719 242h1v1h-1zM719 241h1v1h-1zM720 240h1v1h-1zM720 239h1v1h-1zM721 238h1v1h-1zM721 237h1v1h-1zM722 236h1v1h-1zM722 235h1v1h-1zM723 234h1v1h-1zM723 233h1v1h-1zM724 232h1v1h-1zM724 231h1v1h-1zM724 230h1v1h-1zM725 229h1v1h-1zM725 228h1v1h-1zM726 227h1v1h-1zM726 226h1v1h-1zM727 225h1v1h-1zM727 224h1v1h-1zM728 223h1v1h-1zM728 222h1v1h-1zM728 221h1v1h-1zM729 220h1v1h-1zM729 219h1v1h-1zM730 218h1v1h-1zM730 217h1v1h-1zM731 216h1v1h-1zM731 215h1v1h-1zM732 214h1v1h-1zM732 213h1v1h-1zM733 212h1v1h-1zM733 211h1v1h-1zM734 210h1v1h-1zM734 209h1v1h-1zM735 208h1v1h-1zM735 207h1v1h-1zM736 206h1v1h-1zM736 205h1v1h-1zM737 204h1v1h-1zM737 203h1v1h-1zM738 202h1v1h-1zM738 201h1v1h-1zM739 200h1v1h-1zM739 199h1v1h-1zM740 198h1v1h-1zM740 197h1v1h-1zM741 196h1v1h-1zM741 195h1v1h-1zM742 194h1v1h-1zM742 193h1v1h-1zM743 192h1v1h-1zM743 191h1v1h-1zM744 190h1v1h-1zM744 189h1v1h-1zM745 188h1v1h-1zM745 187h1v1h-1zM746 186h1v1h-1zM746 185h1v1h-1zM747 184h1v1h-1zM747 183h1v1h-1zM748 182h1v1h-1zM748 181h1v1h-1zM748 180h1v1h-1zM749 179h1v1h-1zM749 178h1v1h-1zM749 177h1v1h-1zM750 176h1v1h-1zM750 175h1v1h-1zM750 174h1v1h-1zM751 173h1v1h-1zM751 172h1v1h-1zM751 171h1v1h-1zM752 170h1v1h-1zM752 169h1v1h-1zM752 168h1v1h-1zM753 167h1v1h-1zM753 166h1v1h-1zM753 165h1v1h-1zM754 164h1v1h-1zM754 163h1v1h-1zM754 162h1v1h-1zM755 161h1v1h-1zM755 160h1v1h-1zM755 159h1v1h-1zM756 158h1v1h-1zM756 157h1v1h-1zM756 156h1v1h-1zM757 155h1v1h-1zM757 154h1v1h-1zM757 153h1v1h-1zM758 152h1v1h-1zM758 151h1v1h-1zM759 150h1v1h-1zM759 149h1v1h-1zM759 148h1v1h-1zM760 147h1v1h-1zM760 146h1v1h-1zM760 145h1v1h-1zM761 144h1v1h-1zM761 143h1v1h-1zM761 142h1v1h-1zM762 141h1v1h-1zM762 140h1v1h-1zM763 139h1v1h-1zM763 138h1v1h-1zM763 137h1v1h-1zM764 136h1v1h-1zM764 135h1v1h-1zM764 134h1v1h-1zM765 133h1v1h-1zM765 132h1v1h-1zM766 131h1v1h-1zM766 130h1v1h-1zM767 129h1v1h-1zM767 128h1v1h-1zM768 127h1v1h-1zM768 126h1v1h-1zM769 125h1v1h-1zM769 124h1v1h-1zM770 123h1v1h-1zM770 122h1v1h-1zM771 121h1v1h-1zM771 120h1v1h-1zM772 119h1v1h-1zM772 118h1v1h-1zM773 117h1v1h-1zM773 116h1v1h-1zM774 115h1v1h-1zM775 114h1v1h-1zM776 113h1v1h-1zM776 112h1v1h-1zM777 111h1v1h-1zM778 110h1v1h-1zM779 109h1v1h-1zM779 108h1v1h-1zM780 107h2v1h-2zM782 106h2v1h-2zM784 105h2v1h-2zM786 104h2v1h-2zM788 103h1v1h-1zM789 102h1v1h-1zM790 101h1v1h-1zM791 100h2v1h-2zM793 99h1v1h-1zM794 98h1v1h-1zM795 97h1v1h-1zM796 96h1v1h-1zM797 95h2v1h-2zM799 94h1v1h-1zM800 93h1v1h-1zM801 92h2v1h-2zM803 91h1v1h-1zM804 90h2v1h-2zM806 91h3v1h-3zM809 92h2v1h-2zM811 93h6v1h-6zM817 94h5v1h-5zM822 95h2v1h-2zM824 96h2v1h-2zM826 97h2v1h-2zM828 98h2v1h-2zM830 99h2v1h-2zM832 100h2v1h-2zM834 101h2v1h-2zM836 102h2v1h-2zM838 103h3v1h-3zM841 104h2v1h-2zM843 105h6v1h-6zM849 104h8v1h-8zM857 103h6v1h-6zM863 104h4v1h-4zM867 105h2v1h-2zM869 106h1v1h-1zM870 107h1v1h-1zM871 108h1v1h-1zM872 109h1v2h-1zM873 111h1v1h-1zM874 112h1v1h-1zM875 113h1v1h-1zM876 114h1v1h-1zM877 115h1v1h-1zM878 116h1v2h-1zM879 118h1v1h-1zM880 119h1v1h-1zM881 120h1v1h-1zM882 121h1v2h-1zM883 123h1v1h-1zM884 124h1v1h-1zM885 125h1v2h-1zM886 127h1v2h-1zM887 129h1v2h-1zM888 131h1v2h-1zM889 133h1v2h-1zM890 135h1v2h-1zM891 137h1v2h-1zM892 139h1v1h-1zM893 140h1v2h-1zM894 142h1v1h-1zM895 143h1v2h-1zM896 145h1v1h-1zM897 146h1v2h-1zM898 148h1v1h-1zM899 149h1v2h-1zM900 151h1v2h-1zM901 153h1v2h-1zM902 155h1v2h-1zM903 157h1v2h-1zM904 159h1v2h-1zM905 161h1v2h-1zM906 163h1v2h-1zM907 165h1v2h-1zM908 167h1v1h-1zM909 168h1v2h-1zM910 170h1v2h-1zM911 172h1v2h-1zM912 174h1v1h-1zM913 175h1v2h-1zM914 177h1v2h-1zM915 179h1v2h-1zM916 181h1v1h-1zM917 182h2v1h-2zM919 183h1v1h-1zM920 184h1v1h-1zM921 185h2v1h-2zM923 186h1v1h-1zM924 187h3v1h-3zM927 188h4v1h-4zM931 189h4v1h-4zM935 190h4v1h-4zM939 191h2v1h-2zM941 190h1v1h-1zM942 189h1v1h-1zM943 188h2v1h-2zM945 187h1v1h-1zM946 186h1v1h-1zM947 185h1v1h-1zM948 184h9v1h-9zM957 185h2v1h-2zM959 186h1v1h-1zM960 187h1v1h-1zM961 188h2v1h-2zM963 189h1v1h-1zM964 190h1v1h-1zM965 191h1v2h-1zM966 193h1v2h-1zM967 195h1v1h-1zM968 196h1v2h-1zM969 198h1v1h-1zM970 199h1v2h-1zM971 201h1v2h-1zM972 203h1v1h-1zM973 204h1v2h-1zM974 206h1v1h-1zM975 207h1v2h-1zM976 209h1v1h-1zM977 210h1v2h-1zM978 212h1v1h-1zM979 213h1v2h-1zM980 215h1v1h-1zM981 216h1v1h-1zM982 217h1v2h-1zM983 219h1v1h-1zM984 220h1v1h-1zM985 221h1v1h-1zM986 222h1v2h-1zM987 224h1v1h-1zM988 225h3v1h-3zM991 226h4v1h-4zM995 227h3v1h-3zM998 228h3v1h-3zM1001 229h2v1h-2zM1003 230h3v1h-3zM1006 231h3v1h-3zM1009 232h2v1h-2zM1011 233h3v1h-3zM1014 234h3v1h-3zM1017 235h2v1h-2zM1019 236h3v1h-3zM1022 237h3v1h-3zM1025 238h2v1h-2zM1027 239h2v1h-2zM1029 240h1v2h-1zM1030 242h1v2h-1zM1031 244h1v2h-1zM1032 246h1v1h-1zM1033 247h1v2h-1zM1034 249h1v2h-1zM1035 251h1v2h-1zM1036 253h1v1h-1zM1037 254h1v2h-1zM1038 256h1v2h-1zM1039 258h1v2h-1zM1040 260h1v1h-1zM1041 261h1v2h-1zM1042 263h1v2h-1zM1043 265h1v2h-1zM1044 267h1v2h-1zM1045 269h1v2h-1zM1046 271h1v2h-1zM1047 273h1v2h-1zM1048 275h1v2h-1zM1049 277h1v2h-1zM1050 279h1v2h-1zM1051 281h1v2h-1zM1052 283h1v2h-1zM1053 285h1v3h-1zM1054 288h1v4h-1zM1055 292h1v3h-1zM1056 295h1v3h-1zM1057 298h1v3h-1zM1058 301h1v4h-1zM1059 305h1v3h-1zM1060 308h1v3h-1zM1061 311h1v3h-1zM1062 314h1v3h-1zM1063 317h1v3h-1zM1064 320h1v4h-1zM1065 324h1v3h-1zM1066 327h1v3h-1zM1067 330h1v3h-1zM1068 333h1v2h-1zM1069 335h1v2h-1zM1070 337h1v2h-1zM1071 339h1v2h-1zM1072 341h1v1h-1zM1073 342h1v2h-1zM1074 344h1v2h-1zM1075 346h1v2h-1zM1076 348h1v2h-1zM1077 350h1v2h-1zM1078 352h1v2h-1zM1079 354h1v2h-1zM1080 356h1v2h-1zM1081 358h1v2h-1zM1082 360h1v2h-1zM1083 362h1v2h-1zM1084 364h1v2h-1zM1085 365h9v1h-9zM1094 364h3v1h-3zM1097 363h2v1h-2zM1099 362h12v1h-12zM1111 361h4v1h-4zM1115 360h1v1h-1z" fill="#0000cd"/>
<rect x="961" y="271" width="203" height="4" fill="#ff3333"/>
<rect x="960" y="315" width="207" height="4" fill="#99cc00"/>
</g>
<path d="M7 31h7v1h-1v1h-1v1h-1v1h-1v-1h-1v-1h-1v-1h-1z" fill="#000"/>
<text x="19.2" y="36" font-size="9" fill="#000" stroke="#000" textLength="67.3" lengthAdjust="spacingAndGlyphs">USDCHF-,Daily</text>
<text x="92.9" y="36" font-size="9" fill="#000" stroke="#000" textLength="32.8" lengthAdjust="spacingAndGlyphs">0.99363</text>
<text x="129.0" y="36" font-size="9" fill="#000" stroke="#000" textLength="32.8" lengthAdjust="spacingAndGlyphs">0.99364</text>
<text x="165.10000000000002" y="36" font-size="9" fill="#000" stroke="#000" textLength="32.8" lengthAdjust="spacingAndGlyphs">0.99274</text>
<text x="201.20000000000002" y="36" font-size="9" fill="#000" stroke="#000" textLength="32.8" lengthAdjust="spacingAndGlyphs">0.99309</text>
<rect x="1420" y="32" width="2" height="1" fill="#000"/>
<text x="1425" y="36" font-size="9" fill="#000" stroke="#000" textLength="33.2" lengthAdjust="spacingAndGlyphs">1.02560</text>
<rect x="1420" y="65" width="2" height="1" fill="#000"/>
<text x="1425" y="69" font-size="9" fill="#000" stroke="#000" textLength="33.2" lengthAdjust="spacingAndGlyphs">1.02220</text>
<rect x="1420" y="98" width="2" height="1" fill="#000"/>
<text x="1425" y="102" font-size="9" fill="#000" stroke="#000" textLength="33.2" lengthAdjust="spacingAndGlyphs">1.01870</text>
<rect x="1420" y="131" width="2" height="1" fill="#000"/>
<text x="1425" y="135" font-size="9" fill="#000" stroke="#000" textLength="33.2" lengthAdjust="spacingAndGlyphs">1.01530</text>
<rect x="1420" y="164" width="2" height="1" fill="#000"/>
<text x="1425" y="168" font-size="9" fill="#000" stroke="#000" textLength="33.2" lengthAdjust="spacingAndGlyphs">1.01180</text>
<rect x="1420" y="197" width="2" height="1" fill="#000"/>
<text x="1425" y="201" font-size="9" fill="#000" stroke="#000" textLength="33.2" lengthAdjust="spacingAndGlyphs">1.00840</text>
<rect x="1420" y="230" width="2" height="1" fill="#000"/>
<text x="1425" y="234" font-size="9" fill="#000" stroke="#000" textLength="33.2" lengthAdjust="spacingAndGlyphs">1.00490</text>
<rect x="1420" y="263" width="2" height="1" fill="#000"/>
<text x="1425" y="267" font-size="9" fill="#000" stroke="#000" textLength="33.2" lengthAdjust="spacingAndGlyphs">1.00150</text>
<rect x="1420" y="296" width="2" height="1" fill="#000"/>
<text x="1425" y="300" font-size="9" fill="#000" stroke="#000" textLength="33.2" lengthAdjust="spacingAndGlyphs">0.99800</text>
<rect x="1420" y="329" width="2" height="1" fill="#000"/>
<text x="1425" y="333" font-size="9" fill="#000" stroke="#000" textLength="33.2" lengthAdjust="spacingAndGlyphs">0.99460</text>
<rect x="1420" y="362" width="2" height="1" fill="#000"/>
<text x="1425" y="366" font-size="9" fill="#000" stroke="#000" textLength="33.2" lengthAdjust="spacingAndGlyphs">0.99110</text>
<rect x="1420" y="395" width="2" height="1" fill="#000"/>
<text x="1425" y="399" font-size="9" fill="#000" stroke="#000" textLength="33.2" lengthAdjust="spacingAndGlyphs">0.98770</text>
<rect x="1420" y="428" width="2" height="1" fill="#000"/>
<text x="1425" y="432" font-size="9" fill="#000" stroke="#000" textLength="33.2" lengthAdjust="spacingAndGlyphs">0.98420</text>
<rect x="1420" y="461" width="2" height="1" fill="#000"/>
<text x="1425" y="465" font-size="9" fill="#000" stroke="#000" textLength="33.2" lengthAdjust="spacingAndGlyphs">0.98080</text>
<rect x="1420" y="494" width="2" height="1" fill="#000"/>
<text x="1425" y="498" font-size="9" fill="#000" stroke="#000" textLength="33.2" lengthAdjust="spacingAndGlyphs">0.97740</text>
<rect x="1420" y="527" width="2" height="1" fill="#000"/>
<text x="1425" y="531" font-size="9" fill="#000" stroke="#000" textLength="33.2" lengthAdjust="spacingAndGlyphs">0.97390</text>
<rect x="1420" y="560" width="2" height="1" fill="#000"/>
<text x="1425" y="564" font-size="9" fill="#000" stroke="#000" textLength="33.2" lengthAdjust="spacingAndGlyphs">0.97050</text>
<rect x="1421" y="338" width="41" height="11" fill="#000"/>
<text x="1425" y="347" font-size="9" fill="#fff" stroke="#fff" textLength="33.2" lengthAdjust="spacingAndGlyphs">0.99309</text>
<g clip-path="url(#c2)">
<rect x="4" y="617" width="1" height="23" fill="#c0c0c0"/>
<rect x="12" y="617" width="1" height="21" fill="#c0c0c0"/>
<rect x="20" y="617" width="1" height="21" fill="#c0c0c0"/>
<rect x="28" y="617" width="1" height="20" fill="#c0c0c0"/>
<rect x="36" y="617" width="1" height="23" fill="#c0c0c0"/>
<rect x="44" y="617" width="1" height="26" fill="#c0c0c0"/>
<rect x="52" y="617" width="1" height="31" fill="#c0c0c0"/>
<rect x="60" y="617" width="1" height="28" fill="#c0c0c0"/>
<rect x="68" y="617" width="1" height="26" fill="#c0c0c0"/>
<rect x="76" y="617" width="1" height="23" fill="#c0c0c0"/>
<rect x="84" y="617" width="1" height="23" fill="#c0c0c0"/>
<rect x="92" y="617" width="1" height="19" fill="#c0c0c0"/>
<rect x="100" y="617" width="1" height="13" fill="#c0c0c0"/>
<rect x="108" y="617" width="1" height="6" fill="#c0c0c0"/>
<rect x="124" y="613" width="1" height="5" fill="#c0c0c0"/>
<rect x="132" y="607" width="1" height="11" fill="#c0c0c0"/>
<rect x="140" y="603" width="1" height="15" fill="#c0c0c0"/>
<rect x="148" y="602" width="1" height="16" fill="#c0c0c0"/>
<rect x="156" y="601" width="1" height="17" fill="#c0c0c0"/>
<rect x="164" y="602" width="1" height="16" fill="#c0c0c0"/>
<rect x="172" y="603" width="1" height="15" fill="#c0c0c0"/>
<rect x="180" y="604" width="1" height="14" fill="#c0c0c0"/>
<rect x="188" y="604" width="1" height="14" fill="#c0c0c0"/>
<rect x="196" y="602" width="1" height="16" fill="#c0c0c0"/>
<rect x="204" y="602" width="1" height="16" fill="#c0c0c0"/>
<rect x="212" y="603" width="1" height="15" fill="#c0c0c0"/>
<rect x="220" y="603" width="1" height="15" fill="#c0c0c0"/>
<rect x="228" y="602" width="1" height="16" fill="#c0c0c0"/>
<rect x="236" y="599" width="1" height="19" fill="#c0c0c0"/>
<rect x="244" y="596" width="1" height="22" fill="#c0c0c0"/>
<rect x="252" y="594" width="1" height="24" fill="#c0c0c0"/>
<rect x="260" y="594" width="1" height="24" fill="#c0c0c0"/>
<rect x="268" y="594" width="1" height="24" fill="#c0c0c0"/>
<rect x="276" y="592" width="1" height="26" fill="#c0c0c0"/>
<rect x="284" y="589" width="1" height="29" fill="#c0c0c0"/>
<rect x="292" y="585" width="1" height="33" fill="#c0c0c0"/>
<rect x="300" y="585" width="1" height="33" fill="#c0c0c0"/>
<rect x="308" y="586" width="1" height="32" fill="#c0c0c0"/>
<rect x="316" y="587" width="1" height="31" fill="#c0c0c0"/>
<rect x="324" y="588" width="1" height="30" fill="#c0c0c0"/>
<rect x="332" y="591" width="1" height="27" fill="#c0c0c0"/>
<rect x="340" y="595" width="1" height="23" fill="#c0c0c0"/>
<rect x="348" y="597" width="1" height="21" fill="#c0c0c0"/>
<rect x="356" y="600" width="1" height="18" fill="#c0c0c0"/>
<rect x="364" y="603" width="1" height="15" fill="#c0c0c0"/>
<rect x="372" y="605" width="1" height="13" fill="#c0c0c0"/>
<rect x="380" y="607" width="1" height="11" fill="#c0c0c0"/>
<rect x="388" y="608" width="1" height="10" fill="#c0c0c0"/>
<rect x="396" y="611" width="1" height="7" fill="#c0c0c0"/>
<rect x="404" y="612" width="1" height="6" fill="#c0c0c0"/>
<rect x="412" y="614" width="1" height="4" fill="#c0c0c0"/>
<rect x="420" y="615" width="1" height="3" fill="#c0c0c0"/>
<rect x="428" y="612" width="1" height="6" fill="#c0c0c0"/>
<rect x="436" y="610" width="1" height="8" fill="#c0c0c0"/>
<rect x="444" y="604" width="1" height="14" fill="#c0c0c0"/>
<rect x="452" y="602" width="1" height="16" fill="#c0c0c0"/>
<rect x="460" y="600" width="1" height="18" fill="#c0c0c0"/>
<rect x="468" y="597" width="1" height="21" fill="#c0c0c0"/>
<rect x="476" y="597" width="1" height="21" fill="#c0c0c0"/>
<rect x="484" y="600" width="1" height="18" fill="#c0c0c0"/>
<rect x="492" y="603" width="1" height="15" fill="#c0c0c0"/>
<rect x="500" y="605" width="1" height="13" fill="#c0c0c0"/>
<rect x="508" y="607" width="1" height="11" fill="#c0c0c0"/>
<rect x="516" y="610" width="1" height="8" fill="#c0c0c0"/>
<rect x="524" y="614" width="1" height="4" fill="#c0c0c0"/>
<rect x="532" y="617" width="1" height="4" fill="#c0c0c0"/>
<rect x="540" y="617" width="1" height="10" fill="#c0c0c0"/>
<rect x="548" y="617" width="1" height="13" fill="#c0c0c0"/>
<rect x="556" y="617" width="1" height="15" fill="#c0c0c0"/>
<rect x="564" y="617" width="1" height="18" fill="#c0c0c0"/>
<rect x="572" y="617" width="1" height="19" fill="#c0c0c0"/>
<rect x="580" y="617" width="1" height="19" fill="#c0c0c0"/>
<rect x="588" y="617" width="1" height="18" fill="#c0c0c0"/>
<rect x="596" y="617" width="1" height="17" fill="#c0c0c0"/>
<rect x="604" y="617" width="1" height="16" fill="#c0c0c0"/>
<rect x="612" y="617" width="1" height="13" fill="#c0c0c0"/>
<rect x="620" y="617" width="1" height="11" fill="#c0c0c0"/>
<rect x="628" y="617" width="1" height="10" fill="#c0c0c0"/>
<rect x="636" y="617" width="1" height="7" fill="#c0c0c0"/>
<rect x="644" y="617" width="1" height="5" fill="#c0c0c0"/>
<rect x="652" y="617" width="1" height="3" fill="#c0c0c0"/>
<rect x="660" y="617" width="1" height="2" fill="#c0c0c0"/>
<rect x="668" y="617" width="1" height="1" fill="#c0c0c0"/>
<rect x="676" y="616" width="1" height="2" fill="#c0c0c0"/>
<rect x="684" y="614" width="1" height="4" fill="#c0c0c0"/>
<rect x="692" y="612" width="1" height="6" fill="#c0c0c0"/>
<rect x="700" y="611" width="1" height="7" fill="#c0c0c0"/>
<rect x="708" y="609" width="1" height="9" fill="#c0c0c0"/>
<rect x="716" y="605" width="1" height="13" fill="#c0c0c0"/>
<rect x="724" y="601" width="1" height="17" fill="#c0c0c0"/>
<rect x="732" y="594" width="1" height="24" fill="#c0c0c0"/>
<rect x="740" y="590" width="1" height="28" fill="#c0c0c0"/>
<rect x="748" y="586" width="1" height="32" fill="#c0c0c0"/>
<rect x="756" y="580" width="1" height="38" fill="#c0c0c0"/>
<rect x="764" y="576" width="1" height="42" fill="#c0c0c0"/>
<rect x="772" y="573" width="1" height="45" fill="#c0c0c0"/>
<rect x="780" y="572" width="1" height="46" fill="#c0c0c0"/>
<rect x="788" y="572" width="1" height="46" fill="#c0c0c0"/>
<rect x="796" y="572" width="1" height="46" fill="#c0c0c0"/>
<rect x="804" y="573" width="1" height="45" fill="#c0c0c0"/>
<rect x="812" y="575" width="1" height="43" fill="#c0c0c0"/>
<rect x="820" y="576" width="1" height="42" fill="#c0c0c0"/>
<rect x="828" y="579" width="1" height="39" fill="#c0c0c0"/>
<rect x="836" y="582" width="1" height="36" fill="#c0c0c0"/>
<rect x="844" y="584" width="1" height="34" fill="#c0c0c0"/>
<rect x="852" y="585" width="1" height="33" fill="#c0c0c0"/>
<rect x="860" y="585" width="1" height="33" fill="#c0c0c0"/>
<rect x="868" y="589" width="1" height="29" fill="#c0c0c0"/>
<rect x="876" y="595" width="1" height="23" fill="#c0c0c0"/>
<rect x="884" y="600" width="1" height="18" fill="#c0c0c0"/>
<rect x="892" y="608" width="1" height="10" fill="#c0c0c0"/>
<rect x="900" y="613" width="1" height="5" fill="#c0c0c0"/>
<rect x="908" y="616" width="1" height="2" fill="#c0c0c0"/>
<rect x="932" y="617" width="1" height="1" fill="#c0c0c0"/>
<rect x="940" y="617" width="1" height="3" fill="#c0c0c0"/>
<rect x="948" y="617" width="1" height="3" fill="#c0c0c0"/>
<rect x="956" y="617" width="1" height="4" fill="#c0c0c0"/>
<rect x="964" y="617" width="1" height="10" fill="#c0c0c0"/>
<rect x="972" y="617" width="1" height="14" fill="#c0c0c0"/>
<rect x="980" y="617" width="1" height="18" fill="#c0c0c0"/>
<rect x="988" y="617" width="1" height="19" fill="#c0c0c0"/>
<rect x="996" y="617" width="1" height="16" fill="#c0c0c0"/>
<rect x="1004" y="617" width="1" height="15" fill="#c0c0c0"/>
<rect x="1012" y="617" width="1" height="13" fill="#c0c0c0"/>
<rect x="1020" y="617" width="1" height="16" fill="#c0c0c0"/>
<rect x="1028" y="617" width="1" height="20" fill="#c0c0c0"/>
<rect x="1036" y="617" width="1" height="26" fill="#c0c0c0"/>
<rect x="1044" y="617" width="1" height="31" fill="#c0c0c0"/>
<rect x="1052" y="617" width="1" height="34" fill="#c0c0c0"/>
<rect x="1060" y="617" width="1" height="38" fill="#c0c0c0"/>
<rect x="1068" y="617" width="1" height="43" fill="#c0c0c0"/>
<rect x="1076" y="617" width="1" height="44" fill="#c0c0c0"/>
<rect x="1084" y="617" width="1" height="46" fill="#c0c0c0"/>
<rect x="1092" y="617" width="1" height="44" fill="#c0c0c0"/>
<rect x="1100" y="617" width="1" height="41" fill="#c0c0c0"/>
<rect x="1108" y="617" width="1" height="38" fill="#c0c0c0"/>
<rect x="1116" y="617" width="1" height="36" fill="#c0c0c0"/>
<path d="M4 636h3v1h-3zM10 637h3v1h-3zM16 637h1v1h-1zM17 638h2v1h-2zM22 638h3v1h-3zM28 638h3v1h-3zM34 639h3v1h-3zM40 639h1v1h-1zM41 640h2v1h-2zM46 640h3v1h-3zM52 641h3v1h-3zM58 642h3v1h-3zM64 642h3v1h-3zM70 642h3v1h-3zM76 642h3v1h-3zM82 642h3v1h-3zM88 642h3v1h-3zM94 642h3v1h-3zM100 641h2v1h-2zM102 640h1v1h-1zM106 639h1v1h-1zM107 638h2v1h-2zM112 637h3v1h-3zM118 635h2v1h-2zM120 634h1v1h-1zM124 632h2v1h-2zM126 631h1v1h-1zM130 629h2v1h-2zM132 628h1v1h-1zM136 626h1v1h-1zM137 625h1v1h-1zM138 624h1v1h-1zM142 622h1v1h-1zM143 621h2v1h-2zM148 618h2v1h-2zM150 617h1v1h-1zM154 615h2v1h-2zM156 614h1v1h-1zM160 612h2v1h-2zM162 611h1v1h-1zM166 609h3v1h-3zM172 607h3v1h-3zM178 606h1v1h-1zM179 605h2v1h-2zM184 604h3v1h-3zM190 603h3v1h-3zM196 602h3v1h-3zM202 602h3v1h-3zM208 602h3v1h-3zM214 602h3v1h-3zM220 602h3v1h-3zM226 602h3v1h-3zM232 602h3v1h-3zM238 602h3v1h-3zM244 601h3v1h-3zM250 600h3v1h-3zM256 600h1v1h-1zM257 599h2v1h-2zM262 599h3v1h-3zM268 598h3v1h-3zM274 597h3v1h-3zM280 596h1v1h-1zM281 595h2v1h-2zM286 594h3v1h-3zM292 593h2v1h-2zM294 592h1v1h-1zM298 591h1v1h-1zM299 590h2v1h-2zM304 590h3v1h-3zM310 590h1v1h-1zM311 589h2v1h-2zM316 588h3v1h-3zM322 588h3v1h-3zM328 588h3v1h-3zM334 588h3v1h-3zM340 588h3v1h-3zM346 588h3v1h-3zM352 589h3v1h-3zM358 590h3v1h-3zM364 591h3v1h-3zM370 592h1v1h-1zM371 593h2v1h-2zM376 594h3v1h-3zM382 596h3v1h-3zM388 598h2v1h-2zM390 599h1v1h-1zM394 600h1v1h-1zM395 601h2v1h-2zM400 602h3v1h-3zM406 603h1v1h-1zM407 604h2v1h-2zM412 605h3v1h-3zM418 606h1v1h-1zM419 607h2v1h-2zM424 607h1v1h-1zM425 608h2v1h-2zM430 608h3v1h-3zM436 609h3v1h-3zM442 609h3v1h-3zM448 609h3v1h-3zM454 609h3v1h-3zM460 608h3v1h-3zM466 607h1v1h-1zM467 606h2v1h-2zM472 605h3v1h-3zM478 604h3v1h-3zM484 603h3v1h-3zM490 602h3v1h-3zM496 602h1v1h-1zM497 601h2v1h-2zM502 601h3v1h-3zM508 601h3v1h-3zM514 601h3v1h-3zM520 601h1v1h-1zM521 602h2v1h-2zM526 603h3v1h-3zM532 605h2v1h-2zM534 606h1v1h-1zM538 608h2v1h-2zM540 609h1v1h-1zM544 610h1v1h-1zM545 611h2v1h-2zM550 613h2v1h-2zM552 614h1v1h-1zM556 616h2v1h-2zM558 617h1v1h-1zM562 619h2v1h-2zM564 620h1v1h-1zM568 621h1v1h-1zM569 622h2v1h-2zM574 623h1v1h-1zM575 624h2v1h-2zM580 625h2v1h-2zM582 626h1v1h-1zM586 628h2v1h-2zM588 629h1v1h-1zM592 630h1v1h-1zM593 631h2v1h-2zM598 632h3v1h-3zM604 633h3v1h-3zM610 633h3v1h-3zM616 633h3v1h-3zM622 633h3v1h-3zM628 633h3v1h-3zM634 632h1v1h-1zM635 631h2v1h-2zM640 631h1v1h-1zM641 630h2v1h-2zM646 630h1v1h-1zM647 629h2v1h-2zM652 628h3v1h-3zM658 627h1v1h-1zM659 626h2v1h-2zM664 625h1v1h-1zM665 624h2v1h-2zM670 623h3v1h-3zM676 622h3v1h-3zM682 621h1v1h-1zM683 620h2v1h-2zM688 619h3v1h-3zM694 618h3v1h-3zM700 617h2v1h-2zM702 616h1v1h-1zM706 615h1v1h-1zM707 614h2v1h-2zM712 613h3v1h-3zM718 612h3v1h-3zM724 611h2v1h-2zM726 610h1v1h-1zM730 609h1v1h-1zM731 608h2v1h-2zM736 607h1v1h-1zM737 606h2v1h-2zM742 604h2v1h-2zM744 603h1v1h-1zM748 601h2v1h-2zM750 600h1v1h-1zM754 599h1v1h-1zM755 598h2v1h-2zM760 596h2v1h-2zM762 595h1v1h-1zM766 593h1v1h-1zM767 592h1v1h-1zM768 591h1v1h-1zM772 588h2v1h-2zM774 587h1v1h-1zM778 586h1v1h-1zM779 585h2v1h-2zM784 584h3v1h-3zM790 582h2v1h-2zM792 581h1v1h-1zM796 579h2v1h-2zM798 578h1v1h-1zM802 577h1v1h-1zM803 576h2v1h-2zM808 576h1v1h-1zM809 575h2v1h-2zM814 575h3v1h-3zM820 574h3v1h-3zM826 573h3v1h-3zM832 573h1v1h-1zM833 574h2v1h-2zM838 574h3v1h-3zM844 575h3v1h-3zM850 576h1v1h-1zM851 577h2v1h-2zM856 577h1v1h-1zM857 578h2v1h-2zM862 578h1v1h-1zM863 579h2v1h-2zM868 580h3v1h-3zM874 581h1v1h-1zM875 582h2v1h-2zM880 583h1v1h-1zM881 584h2v1h-2zM886 586h2v1h-2zM888 587h1v1h-1zM892 589h2v1h-2zM894 590h1v1h-1zM898 591h1v1h-1zM899 592h2v1h-2zM904 594h2v1h-2zM906 595h1v1h-1zM910 597h2v1h-2zM912 598h1v1h-1zM916 600h2v1h-2zM918 601h1v1h-1zM922 603h2v1h-2zM924 604h1v1h-1zM928 606h2v1h-2zM930 607h1v1h-1zM934 609h3v1h-3zM940 611h2v1h-2zM942 612h1v1h-1zM946 613h1v1h-1zM947 614h2v1h-2zM952 615h1v1h-1zM953 616h2v1h-2zM958 617h1v1h-1zM959 618h2v1h-2zM964 619h3v1h-3zM970 620h1v1h-1zM971 621h2v1h-2zM976 622h3v1h-3zM982 623h1v1h-1zM983 624h2v1h-2zM988 625h3v1h-3zM994 626h1v1h-1zM995 627h2v1h-2zM1000 627h1v1h-1zM1001 628h2v1h-2zM1006 628h1v1h-1zM1007 629h2v1h-2zM1012 630h3v1h-3zM1018 631h3v1h-3zM1024 632h3v1h-3zM1030 633h1v1h-1zM1031 634h2v1h-2zM1036 635h3v1h-3zM1042 636h1v1h-1zM1043 637h2v1h-2zM1048 638h3v1h-3zM1054 639h1v1h-1zM1055 640h2v1h-2zM1060 641h2v1h-2zM1062 642h1v1h-1zM1066 643h1v1h-1zM1067 644h2v1h-2zM1072 645h1v1h-1zM1073 646h2v1h-2zM1078 648h2v1h-2zM1080 649h1v1h-1zM1084 651h2v1h-2zM1086 652h1v1h-1zM1090 653h1v1h-1zM1091 654h2v1h-2zM1096 654h1v1h-1zM1097 655h2v1h-2zM1102 655h1v1h-1zM1103 656h2v1h-2zM1108 657h3v1h-3zM1114 658h2v1h-2z" fill="#ff0000"/>
</g>
<text x="8.1" y="578" font-size="9" fill="#000" stroke="#000" textLength="65.6" lengthAdjust="spacingAndGlyphs">MACD(12,26,9)</text>
<text x="77" y="578" font-size="9" fill="#000" stroke="#000" textLength="41" lengthAdjust="spacingAndGlyphs">-0.004398</text>
<text x="121" y="578" font-size="9" fill="#000" stroke="#000" textLength="41.2" lengthAdjust="spacingAndGlyphs">-0.004915</text>
<rect x="1420" y="567" width="1" height="1" fill="#000"/>
<text x="1423" y="576" font-size="9" fill="#000" stroke="#000" textLength="37.6" lengthAdjust="spacingAndGlyphs">0.006058</text>
<rect x="1420" y="617" width="1" height="1" fill="#000"/>
<text x="1423" y="621" font-size="9" fill="#000" stroke="#000" textLength="18.4" lengthAdjust="spacingAndGlyphs">0.00</text>
<rect x="1420" y="667" width="1" height="1" fill="#000"/>
<text x="1423" y="665" font-size="9" fill="#000" stroke="#000" textLength="40.9" lengthAdjust="spacingAndGlyphs">-0.006096</text>
<g clip-path="url(#c3)">
<path d="M5 710.5H1419M5 761.5H1419" stroke="#c0c0c0" stroke-width="1" stroke-dasharray="3 3" fill="none"/>
<path d="M4 737h2v1h-2zM6 738h3v1h-3zM9 739h2v1h-2zM11 740h6v1h-6zM17 741h8v1h-8zM25 742h4v1h-4zM29 743h1v1h-1zM30 744h1v1h-1zM31 745h1v1h-1zM32 746h1v2h-1zM33 748h1v1h-1zM34 749h1v1h-1zM35 750h1v1h-1zM36 751h2v1h-2zM38 750h3v1h-3zM41 749h2v1h-2zM43 748h2v1h-2zM45 749h1v1h-1zM46 750h1v1h-1zM47 751h1v1h-1zM48 752h1v1h-1zM49 753h1v1h-1zM50 754h1v1h-1zM51 755h2v1h-2zM52 756h1v1h-1zM53 754h1v1h-1zM53 753h1v1h-1zM54 752h1v1h-1zM54 751h1v1h-1zM55 750h1v1h-1zM55 749h1v1h-1zM56 748h1v1h-1zM56 747h1v1h-1zM57 746h1v1h-1zM57 745h1v1h-1zM58 744h1v1h-1zM58 743h1v1h-1zM59 742h1v1h-1zM59 741h1v1h-1zM60 740h1v1h-1zM60 739h18v1h-18zM78 740h2v1h-2zM80 741h2v1h-2zM82 742h2v1h-2zM84 743h1v1h-1zM85 742h1v1h-1zM86 741h1v1h-1zM86 740h1v1h-1zM87 739h1v1h-1zM88 738h1v1h-1zM89 737h1v1h-1zM90 736h1v1h-1zM90 735h1v1h-1zM91 734h1v1h-1zM92 733h2v1h-2zM94 732h3v1h-3zM97 731h2v1h-2zM99 730h3v1h-3zM102 729h2v1h-2zM104 728h2v1h-2zM106 727h2v1h-2zM108 726h3v1h-3zM111 725h4v1h-4zM115 724h12v1h-12zM127 723h4v1h-4zM131 722h10v1h-10zM141 723h2v1h-2zM143 724h2v1h-2zM145 725h1v1h-1zM146 726h2v1h-2zM148 727h5v1h-5zM153 726h4v1h-4zM157 727h2v1h-2zM159 728h2v1h-2zM161 729h1v1h-1zM162 730h2v1h-2zM164 731h5v1h-5zM169 732h8v1h-8zM177 733h4v1h-4zM181 732h2v1h-2zM183 731h2v1h-2zM185 730h1v1h-1zM186 729h2v1h-2zM188 728h3v1h-3zM191 729h4v1h-4zM195 730h11v1h-11zM206 729h3v1h-3zM209 728h2v1h-2zM211 727h10v1h-10zM221 726h2v1h-2zM223 725h2v1h-2zM225 724h1v1h-1zM226 723h2v1h-2zM228 722h2v1h-2zM230 721h3v1h-3zM233 720h2v1h-2zM235 719h2v1h-2zM237 718h2v1h-2zM239 717h2v1h-2zM241 716h1v1h-1zM242 715h2v1h-2zM244 714h9v1h-9zM253 715h1v1h-1zM254 716h1v1h-1zM255 717h1v1h-1zM256 718h1v1h-1zM257 719h1v1h-1zM258 720h1v1h-1zM259 721h1v1h-1zM260 722h3v1h-3zM263 723h4v1h-4zM267 724h2v1h-2zM269 723h1v1h-1zM270 722h1v1h-1zM271 721h1v1h-1zM272 720h1v1h-1zM272 719h1v1h-1zM273 718h1v1h-1zM274 717h1v1h-1zM275 716h1v1h-1zM276 715h2v1h-2zM278 714h2v1h-2zM280 713h2v1h-2zM282 712h2v1h-2zM284 711h2v1h-2zM286 710h3v1h-3zM289 709h2v1h-2zM291 708h2v1h-2zM293 709h1v2h-1zM294 711h1v1h-1zM295 712h1v2h-1zM296 714h1v1h-1zM297 715h1v2h-1zM298 717h1v1h-1zM299 718h1v2h-1zM300 720h13v1h-13zM313 721h12v1h-12zM325 722h1v1h-1zM326 723h1v1h-1zM327 724h1v1h-1zM328 725h1v2h-1zM329 727h1v1h-1zM330 728h1v1h-1zM331 729h1v1h-1zM332 730h2v1h-2zM334 731h3v1h-3zM337 732h2v1h-2zM339 733h6v1h-6zM345 732h6v1h-6zM351 733h4v1h-4zM355 734h22v1h-22zM377 735h5v1h-5zM382 734h3v1h-3zM385 733h2v1h-2zM387 732h2v1h-2zM389 733h1v2h-1zM390 735h1v1h-1zM391 736h1v1h-1zM392 737h1v2h-1zM393 739h1v1h-1zM394 740h1v1h-1zM395 741h1v2h-1zM396 743h1v1h-1zM397 742h1v1h-1zM398 741h1v1h-1zM399 740h2v1h-2zM401 739h1v1h-1zM402 738h1v1h-1zM403 737h1v1h-1zM404 736h3v1h-3zM407 737h4v1h-4zM411 738h4v1h-4zM415 737h4v1h-4zM419 736h2v1h-2zM421 735h1v1h-1zM421 734h1v1h-1zM422 733h1v1h-1zM422 732h1v1h-1zM423 731h1v1h-1zM423 730h1v1h-1zM424 729h1v1h-1zM425 728h1v1h-1zM425 727h1v1h-1zM426 726h1v1h-1zM426 725h1v1h-1zM427 724h1v1h-1zM427 723h1v1h-1zM428 722h5v1h-5zM433 723h4v1h-4zM437 722h1v1h-1zM437 721h1v1h-1zM438 720h1v1h-1zM438 719h1v1h-1zM439 718h1v1h-1zM440 717h1v1h-1zM440 716h1v1h-1zM441 715h1v1h-1zM442 714h1v1h-1zM442 713h1v1h-1zM443 712h1v1h-1zM443 711h1v1h-1zM444 710h1v1h-1zM445 711h1v2h-1zM446 713h1v1h-1zM447 714h1v1h-1zM448 715h1v2h-1zM449 717h1v1h-1zM450 718h1v1h-1zM451 719h1v2h-1zM452 721h5v1h-5zM457 720h5v1h-5zM462 719h2v1h-2zM464 718h2v1h-2zM466 717h2v1h-2zM468 716h1v1h-1zM469 717h1v1h-1zM470 718h1v1h-1zM471 719h1v1h-1zM472 720h1v2h-1zM473 722h1v1h-1zM474 723h1v1h-1zM475 724h1v1h-1zM476 725h1v1h-1zM477 726h1v1h-1zM478 727h1v1h-1zM479 728h1v1h-1zM480 729h1v2h-1zM481 731h1v1h-1zM482 732h1v1h-1zM483 733h1v1h-1zM484 734h10v1h-10zM494 735h3v1h-3zM497 736h2v1h-2zM499 737h11v1h-11zM510 738h3v1h-3zM513 739h2v1h-2zM515 740h2v1h-2zM517 741h2v1h-2zM519 742h2v1h-2zM521 743h1v1h-1zM522 744h2v1h-2zM524 745h1v1h-1zM525 746h1v2h-1zM526 748h1v2h-1zM527 750h1v1h-1zM528 751h1v2h-1zM529 753h1v1h-1zM530 754h1v2h-1zM531 756h1v2h-1zM532 758h3v1h-3zM535 757h4v1h-4zM539 756h2v1h-2zM541 755h1v1h-1zM542 754h1v1h-1zM543 753h2v1h-2zM545 752h1v1h-1zM546 751h1v1h-1zM547 750h1v1h-1zM548 749h5v1h-5zM553 750h5v1h-5zM558 751h3v1h-3zM561 752h2v1h-2zM563 753h2v1h-2zM565 752h2v1h-2zM567 751h2v1h-2zM569 750h1v1h-1zM570 749h2v1h-2zM572 748h3v1h-3zM575 747h4v1h-4zM579 746h6v1h-6zM585 745h5v1h-5zM590 744h3v1h-3zM593 743h2v1h-2zM595 742h4v1h-4zM599 743h4v1h-4zM603 744h2v1h-2zM605 743h1v1h-1zM605 742h1v1h-1zM606 741h1v1h-1zM607 740h1v1h-1zM607 739h1v1h-1zM608 738h1v1h-1zM609 737h1v1h-1zM609 736h1v1h-1zM610 735h1v1h-1zM611 734h1v1h-1zM611 733h1v1h-1zM612 732h2v1h-2zM614 733h2v1h-2zM616 734h2v1h-2zM618 735h2v1h-2zM620 736h3v1h-3zM623 737h4v1h-4zM627 738h2v1h-2zM629 737h1v1h-1zM630 736h1v1h-1zM631 735h2v1h-2zM633 734h1v1h-1zM634 733h1v1h-1zM635 732h1v1h-1zM636 731h13v1h-13zM649 730h5v1h-5zM654 731h3v1h-3zM657 732h2v1h-2zM659 733h6v1h-6zM665 732h4v1h-4zM669 731h1v1h-1zM670 730h1v1h-1zM671 729h2v1h-2zM673 728h1v1h-1zM674 727h1v1h-1zM675 726h1v1h-1zM676 725h3v1h-3zM679 724h4v1h-4zM683 723h12v1h-12zM695 724h4v1h-4zM699 725h3v1h-3zM702 724h2v1h-2zM704 723h2v1h-2zM706 722h2v1h-2zM708 721h1v1h-1zM709 720h1v1h-1zM710 719h1v1h-1zM711 718h1v1h-1zM712 717h1v1h-1zM712 716h1v1h-1zM713 715h1v1h-1zM714 714h1v1h-1zM715 713h1v1h-1zM716 712h1v1h-1zM717 711h2v1h-2zM719 710h1v1h-1zM720 709h1v1h-1zM721 708h2v1h-2zM723 707h1v1h-1zM724 706h1v1h-1zM725 705h2v1h-2zM727 704h1v1h-1zM728 703h1v1h-1zM729 702h2v1h-2zM731 701h1v1h-1zM732 700h2v1h-2zM734 701h3v1h-3zM737 702h2v1h-2zM739 703h6v1h-6zM745 702h4v1h-4zM749 701h2v1h-2zM751 700h1v1h-1zM752 699h1v1h-1zM753 698h2v1h-2zM755 697h1v1h-1zM756 696h11v1h-11zM767 697h4v1h-4zM771 698h3v1h-3zM774 699h2v1h-2zM776 700h2v1h-2zM778 701h2v1h-2zM780 702h13v1h-13zM793 701h6v1h-6zM799 702h4v1h-4zM803 703h2v1h-2zM805 704h1v1h-1zM806 705h1v1h-1zM807 706h1v1h-1zM808 707h1v2h-1zM809 709h1v1h-1zM810 710h1v1h-1zM811 711h1v1h-1zM812 712h2v1h-2zM814 711h2v1h-2zM816 710h2v1h-2zM818 709h2v1h-2zM820 708h1v1h-1zM821 709h1v1h-1zM822 710h1v1h-1zM823 711h1v1h-1zM824 712h1v1h-1zM825 713h1v1h-1zM826 714h1v1h-1zM827 715h1v1h-1zM828 716h1v1h-1zM829 717h2v1h-2zM831 718h2v1h-2zM833 719h1v1h-1zM834 720h2v1h-2zM836 721h2v1h-2zM838 720h3v1h-3zM841 719h2v1h-2zM843 718h2v1h-2zM845 717h2v1h-2zM847 716h2v1h-2zM849 715h1v1h-1zM850 714h2v1h-2zM852 713h5v1h-5zM857 712h4v1h-4zM860 713h1v1h-1zM861 714h1v2h-1zM862 716h1v2h-1zM863 718h1v2h-1zM864 720h1v3h-1zM865 723h1v2h-1zM866 725h1v2h-1zM867 727h1v2h-1zM868 729h1v2h-1zM869 731h1v1h-1zM870 732h1v1h-1zM871 733h1v1h-1zM872 734h1v2h-1zM873 736h1v1h-1zM874 737h1v1h-1zM875 738h1v1h-1zM876 739h1v1h-1zM877 740h2v1h-2zM879 741h2v1h-2zM881 742h1v1h-1zM882 743h2v1h-2zM884 744h1v1h-1zM885 745h1v1h-1zM886 746h1v2h-1zM887 748h1v1h-1zM888 749h1v1h-1zM889 750h1v1h-1zM890 751h1v2h-1zM891 753h1v1h-1zM892 754h1v1h-1zM893 753h1v1h-1zM894 752h1v1h-1zM894 751h1v1h-1zM895 750h1v1h-1zM896 749h1v1h-1zM897 748h1v1h-1zM898 747h1v1h-1zM898 746h1v1h-1zM899 745h1v1h-1zM900 744h5v1h-5zM905 745h4v1h-4zM909 744h2v1h-2zM911 743h2v1h-2zM913 742h1v1h-1zM914 741h2v1h-2zM916 740h3v1h-3zM919 739h4v1h-4zM923 738h6v1h-6zM929 739h4v1h-4zM933 740h2v1h-2zM935 741h2v1h-2zM937 742h1v1h-1zM938 743h2v1h-2zM940 744h1v1h-1zM941 743h1v1h-1zM942 742h1v1h-1zM943 741h2v1h-2zM945 740h1v1h-1zM946 739h1v1h-1zM947 738h1v1h-1zM948 737h1v1h-1zM949 738h2v1h-2zM951 739h2v1h-2zM953 740h1v1h-1zM954 741h2v1h-2zM956 742h1v1h-1zM957 743h1v2h-1zM958 745h1v1h-1zM959 746h1v1h-1zM960 747h1v2h-1zM961 749h1v1h-1zM962 750h1v1h-1zM963 751h1v2h-1zM964 753h2v1h-2zM966 754h3v1h-3zM969 755h2v1h-2zM971 756h4v1h-4zM975 755h4v1h-4zM979 754h2v1h-2zM981 753h2v1h-2zM983 752h1v1h-1zM984 751h1v1h-1zM985 750h2v1h-2zM987 749h1v1h-1zM988 748h1v1h-1zM989 747h1v1h-1zM990 746h1v1h-1zM991 745h1v1h-1zM992 744h1v1h-1zM993 743h1v1h-1zM994 742h1v1h-1zM995 741h1v1h-1zM996 740h2v1h-2zM998 739h3v1h-3zM1001 738h2v1h-2zM1003 737h3v1h-3zM1006 738h3v1h-3zM1009 739h2v1h-2zM1011 740h2v1h-2zM1013 741h1v2h-1zM1014 743h1v1h-1zM1015 744h1v2h-1zM1016 746h1v1h-1zM1017 747h1v2h-1zM1018 749h1v1h-1zM1019 750h1v2h-1zM1020 752h5v1h-5zM1025 753h4v1h-4zM1029 754h1v1h-1zM1030 755h1v1h-1zM1031 756h1v1h-1zM1032 757h1v2h-1zM1033 759h1v1h-1zM1034 760h1v1h-1zM1035 761h1v1h-1zM1036 762h5v1h-5zM1041 763h4v1h-4zM1045 762h2v1h-2zM1047 761h2v1h-2zM1049 760h1v1h-1zM1050 759h2v1h-2zM1052 758h2v1h-2zM1054 759h2v1h-2zM1056 760h2v1h-2zM1058 761h2v1h-2zM1060 762h1v1h-1zM1061 763h2v1h-2zM1063 764h2v1h-2zM1065 765h1v1h-1zM1066 766h2v1h-2zM1068 767h1v1h-1zM1069 766h1v1h-1zM1070 765h1v1h-1zM1071 764h1v1h-1zM1072 763h1v1h-1zM1072 762h1v1h-1zM1073 761h1v1h-1zM1074 760h1v1h-1zM1075 759h1v1h-1zM1076 758h5v1h-5zM1081 759h4v1h-4zM1085 758h1v1h-1zM1086 757h1v1h-1zM1087 756h1v1h-1zM1088 755h1v1h-1zM1088 754h1v1h-1zM1089 753h1v1h-1zM1090 752h1v1h-1zM1091 751h1v1h-1zM1092 750h1v1h-1zM1093 749h2v1h-2zM1095 748h2v1h-2zM1097 747h1v1h-1zM1098 746h2v1h-2zM1100 745h3v1h-3zM1103 746h4v1h-4zM1107 747h6v1h-6zM1113 748h3v1h-3z" fill="#1e90ff"/>
</g>
<text x="8.1" y="683" font-size="9" fill="#000" stroke="#000" textLength="31.8" lengthAdjust="spacingAndGlyphs">RSI(14)</text>
<text x="42.9" y="683" font-size="9" fill="#000" stroke="#000" textLength="33.2" lengthAdjust="spacingAndGlyphs">40.2090</text>
<rect x="1420" y="672" width="1" height="1" fill="#000"/>
<text x="1423" y="681" font-size="9" fill="#000" stroke="#000" textLength="15.2" lengthAdjust="spacingAndGlyphs">100</text>
<text x="1422.2" y="714" font-size="9" fill="#000" stroke="#000" textLength="10.6" lengthAdjust="spacingAndGlyphs">70</text>
<text x="1422.2" y="765" font-size="9" fill="#000" stroke="#000" textLength="10.6" lengthAdjust="spacingAndGlyphs">30</text>
<rect x="1420" y="799" width="1" height="1" fill="#000"/>
<text x="1423" y="797" font-size="9" fill="#000" stroke="#000" textLength="5" lengthAdjust="spacingAndGlyphs">0</text>
<rect x="4" y="801" width="1" height="3" fill="#000"/>
<text x="3.1" y="813" font-size="9" fill="#000" stroke="#000" textLength="45.199999999999996" lengthAdjust="spacingAndGlyphs">2 Jan 2019</text>
<rect x="68" y="801" width="1" height="3" fill="#000"/>
<text x="67.1" y="813" font-size="9" fill="#000" stroke="#000" textLength="50.4" lengthAdjust="spacingAndGlyphs">11 Jan 2019</text>
<rect x="132" y="801" width="1" height="3" fill="#000"/>
<text x="131.1" y="813" font-size="9" fill="#000" stroke="#000" textLength="50.599999999999994" lengthAdjust="spacingAndGlyphs">21 Jan 2019</text>
<rect x="196" y="801" width="1" height="3" fill="#000"/>
<text x="195.1" y="813" font-size="9" fill="#000" stroke="#000" textLength="50.599999999999994" lengthAdjust="spacingAndGlyphs">30 Jan 2019</text>
<rect x="260" y="801" width="1" height="3" fill="#000"/>
<text x="259.1" y="813" font-size="9" fill="#000" stroke="#000" textLength="47.699999999999996" lengthAdjust="spacingAndGlyphs">8 Feb 2019</text>
<rect x="324" y="801" width="1" height="3" fill="#000"/>
<text x="323.1" y="813" font-size="9" fill="#000" stroke="#000" textLength="52.4" lengthAdjust="spacingAndGlyphs">18 Feb 2019</text>
<rect x="388" y="801" width="1" height="3" fill="#000"/>
<text x="387.1" y="813" font-size="9" fill="#000" stroke="#000" textLength="52.599999999999994" lengthAdjust="spacingAndGlyphs">27 Feb 2019</text>
<rect x="452" y="801" width="1" height="3" fill="#000"/>
<text x="451.1" y="813" font-size="9" fill="#000" stroke="#000" textLength="47.5" lengthAdjust="spacingAndGlyphs">8 Mar 2019</text>
<rect x="516" y="801" width="1" height="3" fill="#000"/>
<text x="515.1" y="813" font-size="9" fill="#000" stroke="#000" textLength="52.5" lengthAdjust="spacingAndGlyphs">18 Mar 2019</text>
<rect x="580" y="801" width="1" height="3" fill="#000"/>
<text x="579.1" y="813" font-size="9" fill="#000" stroke="#000" textLength="52.4" lengthAdjust="spacingAndGlyphs">27 Mar 2019</text>
<rect x="644" y="801" width="1" height="3" fill="#000"/>
<text x="643.1" y="813" font-size="9" fill="#000" stroke="#000" textLength="46.4" lengthAdjust="spacingAndGlyphs">5 Apr 2019</text>
<rect x="708" y="801" width="1" height="3" fill="#000"/>
<text x="707.1" y="813" font-size="9" fill="#000" stroke="#000" textLength="51.099999999999994" lengthAdjust="spacingAndGlyphs">15 Apr 2019</text>
<rect x="772" y="801" width="1" height="3" fill="#000"/>
<text x="771.1" y="813" font-size="9" fill="#000" stroke="#000" textLength="51.4" lengthAdjust="spacingAndGlyphs">25 Apr 2019</text>
<rect x="836" y="801" width="1" height="3" fill="#000"/>
<text x="835.1" y="813" font-size="9" fill="#000" stroke="#000" textLength="50.5" lengthAdjust="spacingAndGlyphs">5 May 2019</text>
<rect x="900" y="801" width="1" height="3" fill="#000"/>
<text x="899.1" y="813" font-size="9" fill="#000" stroke="#000" textLength="55.5" lengthAdjust="spacingAndGlyphs">14 May 2019</text>
<rect x="964" y="801" width="1" height="3" fill="#000"/>
<text x="963.1" y="813" font-size="9" fill="#000" stroke="#000" textLength="55.5" lengthAdjust="spacingAndGlyphs">23 May 2019</text>
<rect x="1028" y="801" width="1" height="3" fill="#000"/>
<text x="1027.1" y="813" font-size="9" fill="#000" stroke="#000" textLength="46.0" lengthAdjust="spacingAndGlyphs">2 Jun 2019</text>
<rect x="1092" y="801" width="1" height="3" fill="#000"/>
<text x="1091.1" y="813" font-size="9" fill="#000" stroke="#000" textLength="50.699999999999996" lengthAdjust="spacingAndGlyphs">11 Jun 2019</text>
<rect x="0" y="821" width="1462" height="1" fill="#e3e3e3"/>
<rect x="0" y="822" width="1462" height="1" fill="#fff"/>
<rect x="0" y="824" width="1462" height="19" fill="#f0f0f0"/>
<rect x="0" y="843" width="1462" height="1" fill="#fcfcfc"/>
<rect x="0" y="844" width="1462" height="2" fill="#f0f0f0"/>
<rect x="0" y="823" width="1462" height="1" fill="#000"/>
<rect x="0" y="824" width="1462" height="1" fill="#fff"/>
<rect x="0" y="823" width="1" height="19" fill="#4a4a4a"/>
<rect x="1" y="824" width="1" height="18" fill="#fff"/>
<rect x="222" y="823" width="106" height="18" fill="#fff"/>
<rect x="220" y="824" width="1" height="19" fill="#fff"/>
<rect x="221" y="842" width="108" height="1" fill="#d8d8d8"/>
<rect x="221" y="823" width="1" height="19" fill="#000"/>
<rect x="328" y="823" width="1" height="19" fill="#000"/>
<rect x="221" y="841" width="108" height="1" fill="#000"/>
<rect x="113" y="826" width="1" height="14" fill="#696969"/>
<rect x="437" y="826" width="1" height="14" fill="#696969"/>
<rect x="549" y="826" width="1" height="14" fill="#696969"/>
<rect x="669" y="826" width="1" height="14" fill="#696969"/>
<text x="16.2" y="838" font-size="11.5" fill="#808080" stroke="#808080" textLength="84.8" lengthAdjust="spacingAndGlyphs" class="t">EURUSD-,Daily</text>
<text x="123.2" y="838" font-size="11.5" fill="#808080" stroke="#808080" textLength="86.8" lengthAdjust="spacingAndGlyphs" class="t">AUDUSD-,Daily</text>
<text x="232.8" y="838" font-size="11.5" fill="#000" stroke="#000" textLength="84.5" lengthAdjust="spacingAndGlyphs" class="t">USDCHF-,Daily</text>
<text x="340.3" y="838" font-size="11.5" fill="#808080" stroke="#808080" textLength="86" lengthAdjust="spacingAndGlyphs" class="t">USDCAD-,Daily</text>
<text x="449.6" y="838" font-size="11.5" fill="#808080" stroke="#808080" textLength="87.2" lengthAdjust="spacingAndGlyphs" class="t">USDCNH-,Daily</text>
<text x="560.5" y="838" font-size="11.5" fill="#808080" stroke="#808080" textLength="96.4" lengthAdjust="spacingAndGlyphs" class="t">EURCHF-,Weekly</text>
<path d="M1438 829h1v7h-1zM1437 830h1v5h-1zM1436 831h1v3h-1zM1435 832h1v1h-1zM1454 829h1v7h-1zM1455 830h1v5h-1zM1456 831h1v3h-1zM1457 832h1v1h-1z" fill="#a0a0a0"/>
</svg>
</body></html>
